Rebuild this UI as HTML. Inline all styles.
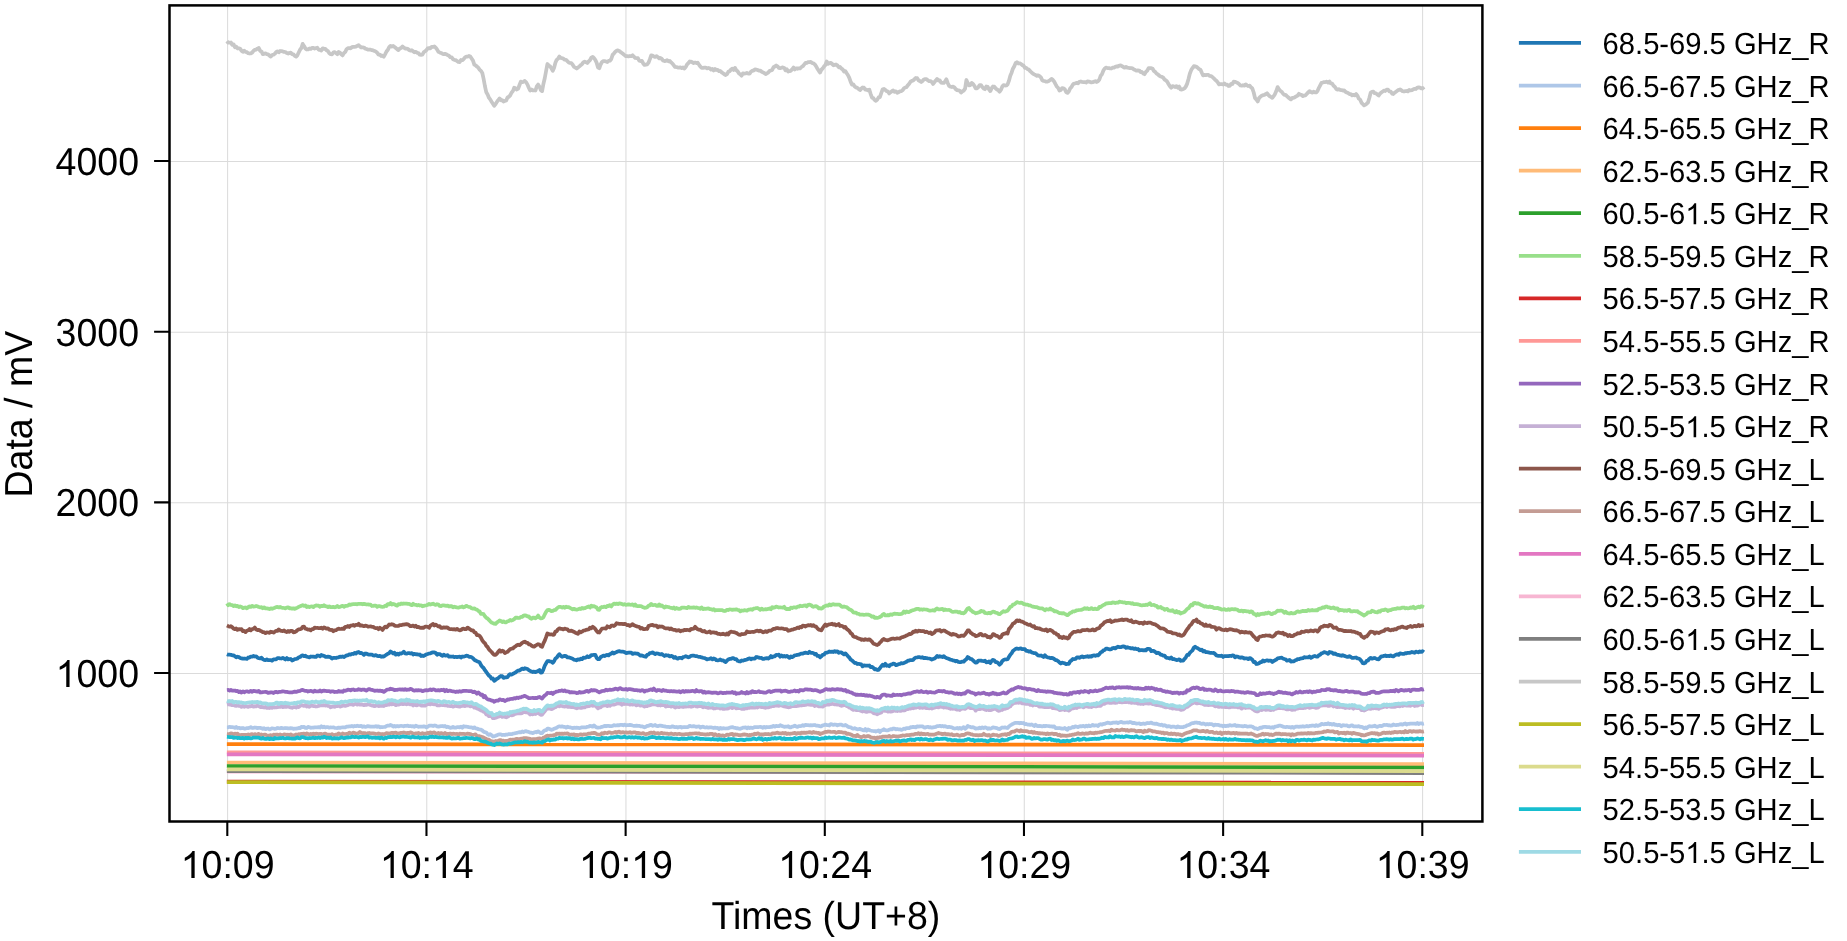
<!DOCTYPE html><html><head><meta charset="utf-8"><style>html,body{margin:0;padding:0;background:#fff;overflow:hidden;}svg{display:block;will-change:transform;}text{font-family:"Liberation Sans",sans-serif;text-rendering:geometricPrecision;}</style></head><body>
<svg width="1847" height="941" viewBox="0 0 1847 941">
<rect width="1847" height="941" fill="#fff"/>
<defs><clipPath id="ax"><rect x="169.5" y="5.4" width="1312.9" height="816.1"/></clipPath></defs>
<path d="M227.60 5.4V821.5M426.77 5.4V821.5M625.93 5.4V821.5M825.10 5.4V821.5M1024.27 5.4V821.5M1223.43 5.4V821.5M1422.60 5.4V821.5M169.5 673.50H1482.4M169.5 502.83H1482.4M169.5 332.16H1482.4M169.5 161.49H1482.4" stroke="#b0b0b0" stroke-opacity="0.45" stroke-width="1.04" fill="none"/>
<g clip-path="url(#ax)" fill="none" stroke-width="3.75" stroke-linejoin="round" stroke-linecap="butt">
<path stroke="#1f77b4" d="M226.9 654.2L228.2 654.7L229.6 654.7L230.9 654.8L232.2 655.3L233.6 655.4L234.9 656.3L236.2 657.3L237.5 656.7L238.9 657.1L240.2 658.0L241.5 658.3L242.9 658.6L244.2 658.5L245.5 658.7L246.9 658.8L248.2 657.5L249.5 657.6L250.8 656.6L252.2 656.6L253.5 656.0L254.8 656.5L256.2 656.4L257.5 657.7L258.8 658.1L260.2 658.4L261.5 657.7L262.8 659.1L264.1 659.8L265.5 660.1L266.8 659.4L268.1 660.2L269.5 660.1L270.8 660.1L272.1 660.7L273.5 659.3L274.8 659.3L276.1 659.4L277.4 658.2L278.8 658.2L280.1 658.4L281.4 658.5L282.8 657.9L284.1 658.7L285.4 659.5L286.8 658.1L288.1 659.4L289.4 659.2L290.7 659.0L292.1 660.5L293.4 660.0L294.7 659.2L296.1 659.0L297.4 658.5L298.7 657.3L300.1 657.0L301.4 655.8L302.7 655.4L304.0 656.2L305.4 655.7L306.7 656.7L308.0 657.0L309.4 657.3L310.7 656.5L312.0 656.6L313.4 656.6L314.7 656.9L316.0 656.9L317.3 655.5L318.7 655.7L320.0 656.4L321.3 655.0L322.7 655.6L324.0 655.8L325.3 656.8L326.7 656.8L328.0 656.6L329.3 656.9L330.6 657.3L332.0 658.5L333.3 657.9L334.6 657.9L336.0 658.0L337.3 657.5L338.6 657.3L340.0 656.6L341.3 656.9L342.6 656.5L343.9 657.0L345.3 656.2L346.6 655.4L347.9 655.3L349.3 654.3L350.6 654.6L351.9 653.9L353.3 654.0L354.6 652.9L355.9 653.5L357.2 652.3L358.6 652.0L359.9 653.1L361.2 652.9L362.6 653.6L363.9 654.8L365.2 653.5L366.6 653.7L367.9 654.3L369.2 654.6L370.5 654.5L371.9 654.7L373.2 655.4L374.5 655.6L375.9 655.1L377.2 655.8L378.5 656.1L379.9 655.9L381.2 656.8L382.5 656.4L383.8 656.6L385.2 655.5L386.5 654.7L387.8 653.7L389.2 653.2L390.5 651.5L391.8 652.4L393.2 653.5L394.5 652.7L395.8 654.6L397.1 653.7L398.5 654.5L399.8 653.3L401.1 653.7L402.5 652.9L403.8 651.8L405.1 653.4L406.5 653.7L407.8 653.1L409.1 653.2L410.4 653.5L411.8 653.2L413.1 654.5L414.4 653.9L415.8 654.3L417.1 654.2L418.4 654.6L419.8 654.5L421.1 656.0L422.4 655.6L423.7 656.0L425.1 655.1L426.4 654.3L427.7 654.0L429.1 653.5L430.4 653.3L431.7 652.7L433.1 652.4L434.4 652.3L435.7 653.0L437.0 654.7L438.4 654.0L439.7 654.1L441.0 655.1L442.4 655.8L443.7 654.6L445.0 655.5L446.4 655.5L447.7 655.2L449.0 656.7L450.3 656.5L451.7 656.7L453.0 656.5L454.3 657.2L455.7 656.8L457.0 657.2L458.3 656.8L459.7 656.6L461.0 657.6L462.3 656.5L463.6 656.6L465.0 656.2L466.3 655.7L467.6 655.8L469.0 656.8L470.3 656.8L471.6 657.3L473.0 658.3L474.3 659.8L475.6 660.5L476.9 661.2L478.3 661.7L479.6 662.2L480.9 665.0L482.3 666.8L483.6 668.0L484.9 670.2L486.3 672.0L487.6 673.8L488.9 675.6L490.2 676.5L491.6 678.7L492.9 678.5L494.2 680.8L495.6 679.9L496.9 678.8L498.2 678.1L499.6 676.9L500.9 676.0L502.2 676.2L503.5 677.9L504.9 677.4L506.2 677.3L507.5 677.1L508.9 675.1L510.2 674.1L511.5 674.7L512.9 673.9L514.2 673.1L515.5 672.5L516.8 671.4L518.2 670.5L519.5 670.6L520.8 669.6L522.2 668.6L523.5 669.1L524.8 668.2L526.2 668.7L527.5 669.0L528.8 670.1L530.1 670.8L531.5 671.6L532.8 672.1L534.1 671.6L535.5 672.2L536.8 671.4L538.1 670.9L539.5 670.0L540.8 672.6L542.1 672.3L543.4 669.4L544.8 665.7L546.1 663.3L547.4 661.1L548.8 661.0L550.1 661.5L551.4 661.7L552.8 662.8L554.1 661.1L555.4 658.5L556.7 657.7L558.1 655.5L559.4 654.2L560.7 655.7L562.1 656.8L563.4 656.3L564.7 655.8L566.1 656.1L567.4 657.4L568.7 657.4L570.0 657.8L571.4 658.3L572.7 658.8L574.0 659.7L575.4 660.0L576.7 660.3L578.0 659.3L579.4 659.7L580.7 658.7L582.0 659.2L583.3 657.6L584.7 657.8L586.0 657.5L587.3 656.3L588.7 657.2L590.0 656.5L591.3 655.0L592.7 655.0L594.0 654.8L595.3 654.8L596.6 657.8L598.0 659.2L599.3 659.1L600.6 657.2L602.0 656.3L603.3 655.6L604.6 656.0L606.0 655.3L607.3 654.9L608.6 655.4L609.9 654.1L611.3 653.7L612.6 652.4L613.9 653.5L615.3 652.6L616.6 652.0L617.9 651.3L619.3 651.2L620.6 651.5L621.9 651.5L623.2 651.7L624.6 652.1L625.9 653.1L627.2 652.8L628.6 652.6L629.9 652.5L631.2 652.6L632.6 653.9L633.9 653.4L635.2 653.4L636.5 653.6L637.9 653.7L639.2 654.7L640.5 655.6L641.9 655.4L643.2 656.0L644.5 656.4L645.9 656.8L647.2 654.9L648.5 654.5L649.8 653.2L651.2 653.0L652.5 652.3L653.8 653.3L655.2 654.0L656.5 653.3L657.8 653.5L659.2 654.1L660.5 654.3L661.8 654.0L663.1 655.0L664.5 656.0L665.8 655.2L667.1 655.5L668.5 655.4L669.8 656.4L671.1 655.9L672.5 656.3L673.8 657.8L675.1 657.0L676.4 658.2L677.8 658.6L679.1 657.8L680.4 657.8L681.8 658.3L683.1 657.1L684.4 656.7L685.8 656.2L687.1 656.7L688.4 657.3L689.7 656.9L691.1 655.8L692.4 655.7L693.7 655.7L695.1 656.0L696.4 656.0L697.7 656.5L699.1 656.9L700.4 656.9L701.7 657.4L703.0 657.8L704.4 658.0L705.7 658.6L707.0 659.4L708.4 659.0L709.7 658.9L711.0 658.2L712.4 659.4L713.7 658.4L715.0 658.9L716.3 660.2L717.7 660.3L719.0 660.1L720.3 659.5L721.7 660.4L723.0 660.4L724.3 661.3L725.7 662.1L727.0 660.5L728.3 659.5L729.6 658.8L731.0 658.8L732.3 658.2L733.6 658.1L735.0 659.2L736.3 659.1L737.6 660.8L739.0 661.3L740.3 661.5L741.6 660.5L742.9 660.7L744.3 660.1L745.6 659.8L746.9 659.5L748.3 658.8L749.6 658.4L750.9 659.3L752.3 658.5L753.6 658.5L754.9 658.6L756.2 657.0L757.6 657.2L758.9 657.6L760.2 658.0L761.6 657.9L762.9 658.9L764.2 658.8L765.6 658.3L766.9 658.1L768.2 658.5L769.5 657.8L770.9 656.1L772.2 657.3L773.5 656.4L774.9 656.3L776.2 654.9L777.5 655.0L778.9 654.7L780.2 656.7L781.5 655.5L782.8 656.6L784.2 655.8L785.5 656.5L786.8 655.9L788.2 656.9L789.5 657.9L790.8 656.4L792.2 657.2L793.5 656.4L794.8 655.3L796.1 655.2L797.5 654.9L798.8 654.7L800.1 654.1L801.5 653.6L802.8 653.7L804.1 653.0L805.5 652.7L806.8 653.0L808.1 653.2L809.4 651.8L810.8 652.8L812.1 652.8L813.4 653.0L814.8 654.3L816.1 653.9L817.4 655.9L818.8 655.8L820.1 657.4L821.4 656.3L822.7 654.9L824.1 654.5L825.4 652.9L826.7 652.7L828.1 652.2L829.4 651.5L830.7 651.8L832.1 651.7L833.4 652.0L834.7 651.1L836.0 651.9L837.4 651.3L838.7 652.9L840.0 652.3L841.4 652.3L842.7 653.5L844.0 654.4L845.4 653.4L846.7 654.8L848.0 656.3L849.3 657.5L850.7 659.6L852.0 660.3L853.3 661.7L854.7 663.0L856.0 662.9L857.3 664.0L858.7 663.8L860.0 664.2L861.3 664.4L862.6 666.4L864.0 665.3L865.3 665.6L866.6 665.5L868.0 665.6L869.3 665.5L870.6 667.2L872.0 666.9L873.3 667.8L874.6 669.3L875.9 669.1L877.3 670.0L878.6 669.8L879.9 668.3L881.3 666.2L882.6 664.8L883.9 665.7L885.3 663.8L886.6 665.8L887.9 665.3L889.2 666.2L890.6 664.7L891.9 664.5L893.2 663.6L894.6 663.9L895.9 665.1L897.2 664.8L898.6 664.2L899.9 664.0L901.2 663.2L902.5 663.4L903.9 663.0L905.2 662.4L906.5 661.8L907.9 660.7L909.2 660.6L910.5 660.1L911.9 660.2L913.2 659.9L914.5 658.3L915.8 657.5L917.2 657.4L918.5 657.2L919.8 657.2L921.2 657.6L922.5 657.2L923.8 658.1L925.2 657.8L926.5 658.2L927.8 658.4L929.1 658.5L930.5 658.8L931.8 659.5L933.1 659.0L934.5 658.5L935.8 657.5L937.1 656.0L938.5 656.8L939.8 656.2L941.1 656.7L942.4 657.0L943.8 656.2L945.1 657.4L946.4 658.0L947.8 658.5L949.1 659.0L950.4 659.7L951.8 659.9L953.1 660.5L954.4 660.7L955.7 661.3L957.1 660.9L958.4 661.9L959.7 662.1L961.1 662.1L962.4 661.6L963.7 661.6L965.1 660.1L966.4 659.2L967.7 657.0L969.0 657.9L970.4 658.8L971.7 659.1L973.0 660.3L974.4 661.7L975.7 662.6L977.0 662.3L978.4 660.5L979.7 660.5L981.0 660.6L982.3 661.0L983.7 661.1L985.0 660.7L986.3 662.3L987.7 662.2L989.0 661.5L990.3 663.0L991.7 660.9L993.0 659.8L994.3 660.5L995.6 662.2L997.0 662.1L998.3 663.2L999.6 664.7L1001.0 663.4L1002.3 661.0L1003.6 660.0L1005.0 659.4L1006.3 659.5L1007.6 659.2L1008.9 657.0L1010.3 654.7L1011.6 653.3L1012.9 651.0L1014.3 649.9L1015.6 648.9L1016.9 648.5L1018.3 648.8L1019.6 648.6L1020.9 648.3L1022.2 649.2L1023.6 649.0L1024.9 649.2L1026.2 650.8L1027.6 650.9L1028.9 651.7L1030.2 651.2L1031.6 652.4L1032.9 652.8L1034.2 653.2L1035.5 653.1L1036.9 654.4L1038.2 655.4L1039.5 655.6L1040.9 655.5L1042.2 656.2L1043.5 657.0L1044.9 655.3L1046.2 656.8L1047.5 657.3L1048.8 657.5L1050.2 658.1L1051.5 657.9L1052.8 658.2L1054.2 659.0L1055.5 660.1L1056.8 660.2L1058.2 661.2L1059.5 662.5L1060.8 663.5L1062.1 662.7L1063.5 663.0L1064.8 663.4L1066.1 664.2L1067.5 663.8L1068.8 663.8L1070.1 661.3L1071.5 660.4L1072.8 659.0L1074.1 659.1L1075.4 659.0L1076.8 657.4L1078.1 657.4L1079.4 657.8L1080.8 657.0L1082.1 656.3L1083.4 657.3L1084.8 656.8L1086.1 656.7L1087.4 656.2L1088.7 656.9L1090.1 656.2L1091.4 656.7L1092.7 655.5L1094.1 655.4L1095.4 655.8L1096.7 655.2L1098.1 655.4L1099.4 654.1L1100.7 652.4L1102.0 651.8L1103.4 650.4L1104.7 650.0L1106.0 648.7L1107.4 648.6L1108.7 649.2L1110.0 649.5L1111.4 649.2L1112.7 648.0L1114.0 647.9L1115.3 648.4L1116.7 647.4L1118.0 646.7L1119.3 647.1L1120.7 647.2L1122.0 646.6L1123.3 646.4L1124.7 646.6L1126.0 647.8L1127.3 647.2L1128.6 647.6L1130.0 647.9L1131.3 648.4L1132.6 648.2L1134.0 648.9L1135.3 648.5L1136.6 649.1L1138.0 649.0L1139.3 650.4L1140.6 650.1L1141.9 650.0L1143.3 650.4L1144.6 650.1L1145.9 650.3L1147.3 648.9L1148.6 648.8L1149.9 649.0L1151.3 651.1L1152.6 650.9L1153.9 650.9L1155.2 651.9L1156.6 653.2L1157.9 652.6L1159.2 653.2L1160.6 654.6L1161.9 654.9L1163.2 655.6L1164.6 655.6L1165.9 657.4L1167.2 657.9L1168.5 658.0L1169.9 658.6L1171.2 657.5L1172.5 659.2L1173.9 659.0L1175.2 659.6L1176.5 660.1L1177.9 659.8L1179.2 659.4L1180.5 660.8L1181.8 660.5L1183.2 660.6L1184.5 658.9L1185.8 657.4L1187.2 654.8L1188.5 654.9L1189.8 652.8L1191.2 651.5L1192.5 650.3L1193.8 647.7L1195.1 646.7L1196.5 647.8L1197.8 648.3L1199.1 649.2L1200.5 650.1L1201.8 649.7L1203.1 651.5L1204.5 651.0L1205.8 652.2L1207.1 652.2L1208.4 652.4L1209.8 652.8L1211.1 652.8L1212.4 653.0L1213.8 652.8L1215.1 654.0L1216.4 655.4L1217.8 655.8L1219.1 655.9L1220.4 656.0L1221.7 655.7L1223.1 657.0L1224.4 656.2L1225.7 656.2L1227.1 656.0L1228.4 656.1L1229.7 655.8L1231.1 656.0L1232.4 655.4L1233.7 655.7L1235.0 657.3L1236.4 656.5L1237.7 656.7L1239.0 657.4L1240.4 657.8L1241.7 657.3L1243.0 657.8L1244.4 658.5L1245.7 658.3L1247.0 658.3L1248.3 659.1L1249.7 658.1L1251.0 658.6L1252.3 659.7L1253.7 662.2L1255.0 661.9L1256.3 664.0L1257.7 663.9L1259.0 663.3L1260.3 662.2L1261.6 662.1L1263.0 660.5L1264.3 661.4L1265.6 660.7L1267.0 660.3L1268.3 660.8L1269.6 660.6L1271.0 660.6L1272.3 662.0L1273.6 661.0L1274.9 660.3L1276.3 659.6L1277.6 658.4L1278.9 658.2L1280.3 657.8L1281.6 657.7L1282.9 658.5L1284.3 659.0L1285.6 659.3L1286.9 660.6L1288.2 660.4L1289.6 660.0L1290.9 661.6L1292.2 661.4L1293.6 661.4L1294.9 660.6L1296.2 660.1L1297.6 659.1L1298.9 659.2L1300.2 658.6L1301.5 658.4L1302.9 658.2L1304.2 657.1L1305.5 657.5L1306.9 657.3L1308.2 657.4L1309.5 656.5L1310.9 657.9L1312.2 657.1L1313.5 656.3L1314.8 656.0L1316.2 656.6L1317.5 656.6L1318.8 655.3L1320.2 654.7L1321.5 653.4L1322.8 653.0L1324.2 652.1L1325.5 652.5L1326.8 653.0L1328.1 653.8L1329.5 652.0L1330.8 652.3L1332.1 652.6L1333.5 653.9L1334.8 653.4L1336.1 654.2L1337.5 654.9L1338.8 654.9L1340.1 655.4L1341.4 655.8L1342.8 655.2L1344.1 655.7L1345.4 656.3L1346.8 656.8L1348.1 656.8L1349.4 656.2L1350.8 657.0L1352.1 657.8L1353.4 657.8L1354.7 657.7L1356.1 657.5L1357.4 658.4L1358.7 658.5L1360.1 659.4L1361.4 660.9L1362.7 663.2L1364.1 663.4L1365.4 662.8L1366.7 660.9L1368.0 660.5L1369.4 658.7L1370.7 657.8L1372.0 658.7L1373.4 658.2L1374.7 658.0L1376.0 658.6L1377.4 659.2L1378.7 659.4L1380.0 657.8L1381.3 656.4L1382.7 656.4L1384.0 655.8L1385.3 655.5L1386.7 656.2L1388.0 655.8L1389.3 656.2L1390.7 655.3L1392.0 656.1L1393.3 656.4L1394.6 655.4L1396.0 654.8L1397.3 654.3L1398.6 654.9L1400.0 653.4L1401.3 653.7L1402.6 653.8L1404.0 653.8L1405.3 653.1L1406.6 653.3L1407.9 652.8L1409.3 652.9L1410.6 652.6L1411.9 652.0L1413.3 652.4L1414.6 652.8L1415.9 651.7L1417.3 652.0L1418.6 652.3L1419.9 651.4L1421.2 651.9L1422.6 651.2L1423.9 652.2"/>
<path stroke="#aec7e8" d="M226.9 727.4L228.2 727.4L229.6 726.8L230.9 727.2L232.2 727.2L233.6 727.3L234.9 727.9L236.2 727.0L237.5 728.0L238.9 727.8L240.2 728.4L241.5 728.1L242.9 728.0L244.2 728.5L245.5 728.5L246.9 728.2L248.2 728.2L249.5 727.8L250.8 727.1L252.2 728.0L253.5 727.8L254.8 727.5L256.2 727.7L257.5 728.2L258.8 727.8L260.2 727.9L261.5 728.3L262.8 728.9L264.1 728.2L265.5 729.2L266.8 728.6L268.1 728.5L269.5 729.4L270.8 728.9L272.1 728.3L273.5 728.5L274.8 728.8L276.1 728.7L277.4 728.0L278.8 728.2L280.1 728.3L281.4 727.9L282.8 728.3L284.1 728.2L285.4 728.0L286.8 728.1L288.1 728.3L289.4 728.4L290.7 728.2L292.1 728.3L293.4 728.9L294.7 728.7L296.1 728.6L297.4 728.4L298.7 727.9L300.1 728.2L301.4 726.8L302.7 727.1L304.0 726.9L305.4 727.8L306.7 728.0L308.0 726.9L309.4 727.3L310.7 727.8L312.0 727.7L313.4 727.6L314.7 727.3L316.0 727.4L317.3 727.4L318.7 727.1L320.0 727.5L321.3 726.3L322.7 727.3L324.0 726.7L325.3 727.5L326.7 727.2L328.0 727.1L329.3 727.7L330.6 727.3L332.0 727.5L333.3 727.3L334.6 727.9L336.0 728.0L337.3 728.1L338.6 727.6L340.0 727.9L341.3 727.5L342.6 727.3L343.9 727.4L345.3 727.4L346.6 726.7L347.9 726.6L349.3 726.4L350.6 726.4L351.9 726.0L353.3 726.6L354.6 726.0L355.9 726.2L357.2 725.7L358.6 726.1L359.9 726.1L361.2 725.9L362.6 726.8L363.9 726.3L365.2 726.9L366.6 726.6L367.9 726.1L369.2 726.3L370.5 726.6L371.9 726.6L373.2 726.7L374.5 726.7L375.9 726.2L377.2 726.9L378.5 726.3L379.9 727.3L381.2 727.0L382.5 727.1L383.8 727.0L385.2 726.9L386.5 726.0L387.8 725.6L389.2 725.6L390.5 725.0L391.8 725.5L393.2 726.6L394.5 725.8L395.8 726.5L397.1 726.0L398.5 726.4L399.8 726.0L401.1 725.9L402.5 726.0L403.8 726.3L405.1 725.8L406.5 725.9L407.8 725.6L409.1 726.2L410.4 726.0L411.8 726.4L413.1 726.2L414.4 726.9L415.8 725.7L417.1 726.3L418.4 726.8L419.8 726.5L421.1 726.5L422.4 726.7L423.7 726.3L425.1 726.6L426.4 727.3L427.7 726.7L429.1 725.7L430.4 725.6L431.7 725.6L433.1 726.0L434.4 725.5L435.7 725.7L437.0 726.4L438.4 726.6L439.7 726.3L441.0 726.1L442.4 726.0L443.7 726.4L445.0 726.0L446.4 727.1L447.7 726.7L449.0 727.2L450.3 727.8L451.7 727.6L453.0 726.8L454.3 727.6L455.7 727.7L457.0 727.1L458.3 727.1L459.7 727.3L461.0 726.7L462.3 727.7L463.6 726.2L465.0 726.6L466.3 726.7L467.6 726.8L469.0 727.1L470.3 727.3L471.6 727.3L473.0 728.1L474.3 727.3L475.6 728.4L476.9 728.5L478.3 729.2L479.6 729.5L480.9 729.7L482.3 730.5L483.6 731.7L484.9 732.2L486.3 732.5L487.6 734.1L488.9 734.9L490.2 734.1L491.6 735.2L492.9 736.5L494.2 736.3L495.6 735.8L496.9 735.2L498.2 734.6L499.6 734.4L500.9 734.4L502.2 735.0L503.5 734.8L504.9 735.0L506.2 734.5L507.5 734.6L508.9 734.0L510.2 734.0L511.5 734.2L512.9 733.7L514.2 733.5L515.5 733.2L516.8 732.8L518.2 732.5L519.5 732.2L520.8 732.4L522.2 731.5L523.5 732.1L524.8 731.4L526.2 731.2L527.5 731.7L528.8 732.0L530.1 732.6L531.5 732.6L532.8 733.2L534.1 732.5L535.5 732.0L536.8 732.3L538.1 731.3L539.5 732.3L540.8 733.2L542.1 733.1L543.4 731.3L544.8 730.4L546.1 730.2L547.4 728.6L548.8 728.7L550.1 729.2L551.4 729.8L552.8 729.5L554.1 728.7L555.4 728.2L556.7 727.7L558.1 726.7L559.4 726.3L560.7 726.7L562.1 726.4L563.4 726.8L564.7 726.9L566.1 727.7L567.4 726.7L568.7 727.1L570.0 727.3L571.4 727.7L572.7 728.1L574.0 727.7L575.4 727.8L576.7 727.7L578.0 727.8L579.4 728.2L580.7 727.8L582.0 727.3L583.3 727.4L584.7 727.4L586.0 727.4L587.3 726.8L588.7 726.7L590.0 725.9L591.3 726.0L592.7 726.7L594.0 725.4L595.3 726.6L596.6 727.4L598.0 727.7L599.3 727.5L600.6 727.3L602.0 726.8L603.3 726.5L604.6 725.8L606.0 726.3L607.3 725.9L608.6 725.9L609.9 726.1L611.3 726.1L612.6 725.9L613.9 725.2L615.3 725.5L616.6 725.3L617.9 725.1L619.3 725.3L620.6 724.8L621.9 724.9L623.2 725.3L624.6 724.6L625.9 725.3L627.2 725.1L628.6 725.2L629.9 724.8L631.2 725.1L632.6 725.5L633.9 725.8L635.2 725.9L636.5 725.7L637.9 725.9L639.2 725.8L640.5 726.4L641.9 726.3L643.2 726.8L644.5 727.4L645.9 726.8L647.2 725.9L648.5 725.8L649.8 725.2L651.2 724.9L652.5 725.8L653.8 725.5L655.2 725.0L656.5 725.8L657.8 726.1L659.2 725.7L660.5 725.6L661.8 725.9L663.1 726.2L664.5 726.4L665.8 726.7L667.1 726.8L668.5 726.9L669.8 727.1L671.1 727.0L672.5 726.3L673.8 726.9L675.1 727.2L676.4 727.0L677.8 727.5L679.1 727.0L680.4 726.8L681.8 727.5L683.1 727.2L684.4 727.0L685.8 727.1L687.1 727.1L688.4 726.8L689.7 725.8L691.1 726.4L692.4 726.4L693.7 726.1L695.1 726.5L696.4 726.9L697.7 726.5L699.1 726.4L700.4 727.6L701.7 726.8L703.0 726.7L704.4 727.3L705.7 727.5L707.0 727.2L708.4 727.7L709.7 727.4L711.0 727.3L712.4 727.7L713.7 728.0L715.0 727.6L716.3 728.0L717.7 727.9L719.0 729.0L720.3 727.8L721.7 728.6L723.0 728.2L724.3 728.3L725.7 728.5L727.0 728.4L728.3 728.3L729.6 727.8L731.0 727.3L732.3 727.1L733.6 727.6L735.0 727.8L736.3 728.3L737.6 728.2L739.0 728.6L740.3 728.8L741.6 728.3L742.9 727.6L744.3 727.6L745.6 727.4L746.9 728.3L748.3 727.4L749.6 728.0L750.9 727.7L752.3 728.0L753.6 727.6L754.9 727.1L756.2 727.0L757.6 727.0L758.9 727.0L760.2 726.9L761.6 727.1L762.9 727.8L764.2 726.8L765.6 727.6L766.9 727.0L768.2 727.2L769.5 727.2L770.9 726.7L772.2 726.8L773.5 725.8L774.9 726.6L776.2 725.8L777.5 726.2L778.9 726.1L780.2 725.2L781.5 725.9L782.8 726.3L784.2 726.9L785.5 726.6L786.8 726.7L788.2 726.2L789.5 727.3L790.8 727.3L792.2 726.6L793.5 726.3L794.8 725.7L796.1 726.4L797.5 726.9L798.8 726.1L800.1 726.1L801.5 725.8L802.8 725.1L804.1 725.8L805.5 724.8L806.8 725.1L808.1 725.2L809.4 725.3L810.8 725.2L812.1 725.3L813.4 725.1L814.8 725.0L816.1 725.6L817.4 725.7L818.8 725.9L820.1 726.3L821.4 726.3L822.7 725.3L824.1 725.1L825.4 724.6L826.7 725.0L828.1 725.0L829.4 725.5L830.7 724.2L832.1 724.4L833.4 724.9L834.7 724.5L836.0 724.6L837.4 725.4L838.7 724.8L840.0 724.6L841.4 724.7L842.7 725.4L844.0 725.5L845.4 725.0L846.7 725.6L848.0 726.7L849.3 727.2L850.7 727.3L852.0 728.2L853.3 728.7L854.7 728.1L856.0 728.8L857.3 729.3L858.7 729.1L860.0 728.8L861.3 729.6L862.6 730.1L864.0 730.3L865.3 729.0L866.6 730.7L868.0 729.4L869.3 730.1L870.6 730.5L872.0 730.8L873.3 731.0L874.6 731.0L875.9 731.6L877.3 731.1L878.6 730.4L879.9 732.0L881.3 730.5L882.6 730.2L883.9 729.2L885.3 730.2L886.6 730.3L887.9 730.4L889.2 729.8L890.6 729.2L891.9 729.4L893.2 728.5L894.6 728.7L895.9 729.3L897.2 729.0L898.6 729.3L899.9 729.3L901.2 729.9L902.5 729.4L903.9 728.7L905.2 729.0L906.5 728.0L907.9 728.0L909.2 728.2L910.5 727.2L911.9 727.3L913.2 726.8L914.5 727.1L915.8 727.4L917.2 726.4L918.5 726.7L919.8 726.4L921.2 726.3L922.5 726.3L923.8 727.3L925.2 727.6L926.5 727.0L927.8 726.8L929.1 727.4L930.5 727.2L931.8 727.7L933.1 727.4L934.5 727.1L935.8 726.9L937.1 726.1L938.5 726.2L939.8 725.8L941.1 726.3L942.4 726.0L943.8 726.5L945.1 726.2L946.4 726.8L947.8 727.2L949.1 726.8L950.4 727.2L951.8 727.4L953.1 728.1L954.4 728.5L955.7 728.3L957.1 728.0L958.4 728.7L959.7 727.8L961.1 728.9L962.4 728.0L963.7 727.1L965.1 728.8L966.4 727.7L967.7 726.0L969.0 726.7L970.4 726.9L971.7 727.4L973.0 727.2L974.4 727.8L975.7 728.6L977.0 728.4L978.4 728.4L979.7 727.6L981.0 728.3L982.3 727.4L983.7 728.0L985.0 727.4L986.3 727.8L987.7 728.8L989.0 728.2L990.3 728.7L991.7 728.1L993.0 727.3L994.3 727.7L995.6 727.9L997.0 728.2L998.3 728.9L999.6 729.1L1001.0 728.2L1002.3 727.5L1003.6 727.6L1005.0 727.4L1006.3 727.8L1007.6 728.0L1008.9 726.5L1010.3 725.4L1011.6 724.7L1012.9 723.9L1014.3 723.3L1015.6 722.8L1016.9 722.8L1018.3 722.9L1019.6 723.3L1020.9 722.9L1022.2 723.2L1023.6 723.0L1024.9 724.2L1026.2 724.0L1027.6 724.6L1028.9 724.5L1030.2 724.9L1031.6 724.5L1032.9 725.1L1034.2 726.0L1035.5 724.8L1036.9 725.8L1038.2 726.1L1039.5 725.8L1040.9 726.1L1042.2 726.4L1043.5 725.9L1044.9 726.3L1046.2 725.9L1047.5 726.0L1048.8 726.1L1050.2 726.3L1051.5 726.4L1052.8 726.8L1054.2 726.4L1055.5 728.0L1056.8 728.0L1058.2 728.1L1059.5 728.0L1060.8 728.3L1062.1 728.6L1063.5 728.6L1064.8 728.0L1066.1 729.0L1067.5 729.8L1068.8 727.9L1070.1 728.4L1071.5 727.7L1072.8 727.0L1074.1 727.4L1075.4 726.3L1076.8 726.7L1078.1 727.1L1079.4 726.4L1080.8 726.2L1082.1 726.3L1083.4 725.9L1084.8 726.6L1086.1 725.7L1087.4 726.3L1088.7 725.5L1090.1 726.2L1091.4 725.8L1092.7 724.9L1094.1 725.7L1095.4 725.3L1096.7 725.4L1098.1 726.0L1099.4 724.6L1100.7 724.2L1102.0 724.7L1103.4 723.8L1104.7 723.9L1106.0 723.2L1107.4 722.7L1108.7 722.9L1110.0 723.3L1111.4 723.2L1112.7 722.7L1114.0 722.7L1115.3 722.6L1116.7 722.3L1118.0 723.1L1119.3 722.4L1120.7 721.9L1122.0 722.2L1123.3 722.7L1124.7 722.7L1126.0 722.5L1127.3 722.3L1128.6 722.6L1130.0 722.0L1131.3 722.3L1132.6 723.1L1134.0 722.8L1135.3 723.2L1136.6 723.6L1138.0 723.5L1139.3 723.4L1140.6 724.2L1141.9 723.8L1143.3 723.5L1144.6 723.8L1145.9 723.6L1147.3 723.0L1148.6 723.2L1149.9 723.1L1151.3 722.6L1152.6 723.5L1153.9 723.7L1155.2 723.9L1156.6 723.6L1157.9 724.3L1159.2 724.7L1160.6 725.0L1161.9 724.7L1163.2 725.6L1164.6 725.2L1165.9 725.8L1167.2 726.6L1168.5 726.1L1169.9 726.3L1171.2 727.0L1172.5 726.6L1173.9 726.7L1175.2 727.0L1176.5 727.4L1177.9 726.4L1179.2 727.0L1180.5 727.0L1181.8 727.1L1183.2 727.1L1184.5 726.5L1185.8 726.3L1187.2 725.3L1188.5 725.0L1189.8 724.5L1191.2 723.5L1192.5 723.2L1193.8 723.1L1195.1 722.6L1196.5 722.5L1197.8 722.9L1199.1 722.8L1200.5 723.5L1201.8 723.9L1203.1 723.5L1204.5 723.9L1205.8 724.5L1207.1 724.0L1208.4 724.4L1209.8 724.0L1211.1 724.2L1212.4 724.4L1213.8 725.5L1215.1 724.7L1216.4 724.8L1217.8 724.9L1219.1 725.2L1220.4 725.7L1221.7 725.6L1223.1 726.4L1224.4 725.7L1225.7 726.1L1227.1 725.7L1228.4 725.8L1229.7 725.1L1231.1 725.5L1232.4 725.5L1233.7 725.4L1235.0 724.9L1236.4 726.0L1237.7 725.7L1239.0 725.8L1240.4 726.0L1241.7 726.1L1243.0 726.4L1244.4 725.9L1245.7 726.0L1247.0 726.5L1248.3 726.5L1249.7 726.3L1251.0 726.3L1252.3 726.7L1253.7 727.6L1255.0 728.5L1256.3 728.3L1257.7 729.1L1259.0 728.5L1260.3 727.6L1261.6 727.8L1263.0 727.0L1264.3 726.8L1265.6 726.9L1267.0 727.1L1268.3 727.1L1269.6 727.2L1271.0 727.7L1272.3 727.1L1273.6 727.8L1274.9 726.7L1276.3 726.5L1277.6 726.2L1278.9 725.6L1280.3 725.7L1281.6 726.0L1282.9 726.6L1284.3 727.0L1285.6 727.2L1286.9 726.8L1288.2 727.0L1289.6 727.0L1290.9 727.6L1292.2 726.8L1293.6 727.9L1294.9 727.0L1296.2 726.6L1297.6 726.7L1298.9 726.8L1300.2 726.5L1301.5 726.6L1302.9 726.2L1304.2 726.6L1305.5 726.5L1306.9 725.9L1308.2 726.4L1309.5 725.9L1310.9 725.9L1312.2 725.5L1313.5 725.7L1314.8 726.0L1316.2 725.2L1317.5 725.9L1318.8 725.4L1320.2 725.0L1321.5 723.8L1322.8 724.1L1324.2 724.3L1325.5 723.8L1326.8 724.1L1328.1 723.2L1329.5 724.3L1330.8 723.8L1332.1 724.6L1333.5 723.8L1334.8 724.9L1336.1 724.7L1337.5 725.3L1338.8 724.8L1340.1 725.1L1341.4 726.2L1342.8 725.2L1344.1 725.3L1345.4 725.5L1346.8 725.3L1348.1 726.1L1349.4 726.4L1350.8 725.6L1352.1 725.3L1353.4 726.4L1354.7 726.4L1356.1 726.4L1357.4 726.5L1358.7 726.1L1360.1 726.8L1361.4 726.8L1362.7 727.3L1364.1 728.4L1365.4 727.4L1366.7 728.1L1368.0 726.9L1369.4 726.2L1370.7 726.3L1372.0 726.5L1373.4 726.2L1374.7 725.7L1376.0 726.4L1377.4 726.9L1378.7 726.2L1380.0 725.8L1381.3 726.2L1382.7 725.6L1384.0 724.8L1385.3 725.0L1386.7 724.9L1388.0 725.3L1389.3 725.2L1390.7 725.6L1392.0 725.4L1393.3 724.5L1394.6 725.0L1396.0 725.1L1397.3 724.8L1398.6 724.9L1400.0 724.3L1401.3 724.1L1402.6 724.7L1404.0 723.9L1405.3 723.5L1406.6 724.5L1407.9 723.9L1409.3 723.9L1410.6 723.5L1411.9 723.5L1413.3 723.5L1414.6 723.7L1415.9 723.9L1417.3 723.0L1418.6 724.0L1419.9 723.3L1421.2 723.3L1422.6 723.8L1423.9 723.5"/>
<path stroke="#ff7f0e" d="M226.9 744.0L1424.0 745.1"/>
<path stroke="#ffbb78" d="M226.9 762.5L1424.0 764.0"/>
<path stroke="#2ca02c" d="M226.9 766.0L1424.0 767.5"/>
<path stroke="#98df8a" d="M226.9 603.4L228.2 605.2L229.6 604.2L230.9 605.0L232.2 605.2L233.6 606.0L234.9 605.4L236.2 606.3L237.5 605.8L238.9 607.0L240.2 606.4L241.5 606.9L242.9 608.2L244.2 607.7L245.5 607.5L246.9 608.3L248.2 607.2L249.5 606.4L250.8 606.9L252.2 605.9L253.5 606.7L254.8 606.5L256.2 606.0L257.5 606.3L258.8 607.0L260.2 607.3L261.5 607.2L262.8 608.3L264.1 607.4L265.5 608.3L266.8 608.4L268.1 608.6L269.5 609.0L270.8 608.3L272.1 608.8L273.5 608.2L274.8 607.7L276.1 607.1L277.4 606.9L278.8 607.4L280.1 606.9L281.4 607.4L282.8 607.9L284.1 608.0L285.4 608.3L286.8 607.6L288.1 607.3L289.4 608.4L290.7 608.2L292.1 608.7L293.4 608.3L294.7 608.9L296.1 608.2L297.4 607.6L298.7 606.9L300.1 606.3L301.4 605.7L302.7 605.1L304.0 605.8L305.4 605.5L306.7 607.0L308.0 606.5L309.4 607.1L310.7 606.5L312.0 606.3L313.4 607.1L314.7 605.9L316.0 605.4L317.3 605.6L318.7 605.7L320.0 606.8L321.3 605.8L322.7 606.1L324.0 605.2L325.3 606.1L326.7 606.4L328.0 607.2L329.3 606.3L330.6 607.1L332.0 607.2L333.3 606.9L334.6 607.3L336.0 607.0L337.3 606.0L338.6 607.1L340.0 606.9L341.3 606.3L342.6 605.8L343.9 606.8L345.3 605.9L346.6 605.9L347.9 605.7L349.3 604.5L350.6 604.9L351.9 604.3L353.3 604.2L354.6 604.1L355.9 604.0L357.2 604.3L358.6 603.8L359.9 603.8L361.2 603.9L362.6 604.3L363.9 603.9L365.2 604.2L366.6 604.5L367.9 604.4L369.2 604.7L370.5 604.6L371.9 606.0L373.2 605.9L374.5 605.7L375.9 605.7L377.2 606.9L378.5 606.2L379.9 606.2L381.2 606.6L382.5 606.8L383.8 606.7L385.2 605.6L386.5 606.0L387.8 604.1L389.2 604.3L390.5 603.1L391.8 604.6L393.2 604.0L394.5 604.4L395.8 605.2L397.1 605.6L398.5 604.2L399.8 604.3L401.1 603.5L402.5 603.9L403.8 603.5L405.1 603.6L406.5 603.6L407.8 603.9L409.1 603.8L410.4 604.6L411.8 605.2L413.1 603.8L414.4 604.7L415.8 604.8L417.1 605.4L418.4 604.9L419.8 605.5L421.1 605.3L422.4 606.3L423.7 605.9L425.1 605.5L426.4 605.4L427.7 604.8L429.1 603.9L430.4 604.5L431.7 604.1L433.1 603.7L434.4 604.5L435.7 604.9L437.0 604.2L438.4 604.6L439.7 606.0L441.0 606.1L442.4 605.3L443.7 605.3L445.0 605.7L446.4 605.9L447.7 605.6L449.0 606.5L450.3 606.1L451.7 606.2L453.0 607.3L454.3 606.7L455.7 607.1L457.0 607.5L458.3 607.7L459.7 607.1L461.0 607.0L462.3 606.5L463.6 607.4L465.0 606.8L466.3 605.8L467.6 606.4L469.0 607.0L470.3 607.2L471.6 608.2L473.0 608.6L474.3 608.4L475.6 609.3L476.9 609.5L478.3 610.8L479.6 611.5L480.9 613.8L482.3 613.9L483.6 614.2L484.9 616.2L486.3 617.8L487.6 618.5L488.9 619.9L490.2 621.3L491.6 622.5L492.9 623.1L494.2 623.7L495.6 623.9L496.9 622.5L498.2 621.6L499.6 620.5L500.9 621.0L502.2 622.0L503.5 621.3L504.9 622.4L506.2 622.3L507.5 621.3L508.9 621.0L510.2 619.9L511.5 620.5L512.9 620.0L514.2 619.1L515.5 617.7L516.8 617.6L518.2 618.0L519.5 617.9L520.8 616.9L522.2 616.9L523.5 615.6L524.8 615.4L526.2 615.7L527.5 616.5L528.8 616.3L530.1 618.1L531.5 618.8L532.8 617.7L534.1 617.6L535.5 618.4L536.8 617.3L538.1 615.6L539.5 617.7L540.8 618.4L542.1 618.2L543.4 617.3L544.8 614.3L546.1 611.8L547.4 610.1L548.8 609.9L550.1 610.3L551.4 611.1L552.8 610.9L554.1 610.2L555.4 610.0L556.7 608.6L558.1 607.4L559.4 606.8L560.7 606.9L562.1 607.5L563.4 606.9L564.7 607.8L566.1 606.7L567.4 607.2L568.7 607.1L570.0 607.9L571.4 608.6L572.7 609.4L574.0 608.8L575.4 609.5L576.7 609.6L578.0 609.2L579.4 608.7L580.7 609.0L582.0 607.9L583.3 608.5L584.7 608.2L586.0 607.6L587.3 607.0L588.7 606.5L590.0 607.5L591.3 605.6L592.7 606.5L594.0 606.1L595.3 606.8L596.6 607.5L598.0 609.6L599.3 609.8L600.6 607.7L602.0 607.0L603.3 607.1L604.6 606.6L606.0 607.2L607.3 605.8L608.6 606.1L609.9 605.1L611.3 606.4L612.6 604.7L613.9 603.6L615.3 604.1L616.6 603.6L617.9 604.1L619.3 603.3L620.6 603.6L621.9 604.0L623.2 604.7L624.6 604.1L625.9 604.8L627.2 604.7L628.6 604.4L629.9 604.7L631.2 604.8L632.6 604.4L633.9 605.5L635.2 604.4L636.5 605.9L637.9 606.2L639.2 606.0L640.5 606.1L641.9 606.6L643.2 607.3L644.5 607.8L645.9 607.7L647.2 607.3L648.5 605.8L649.8 605.4L651.2 603.9L652.5 605.0L653.8 605.0L655.2 604.9L656.5 605.8L657.8 605.8L659.2 604.4L660.5 605.9L661.8 605.4L663.1 606.7L664.5 607.5L665.8 606.4L667.1 606.9L668.5 607.0L669.8 607.5L671.1 607.8L672.5 608.3L673.8 607.5L675.1 608.9L676.4 608.0L677.8 608.6L679.1 608.9L680.4 608.6L681.8 607.7L683.1 607.7L684.4 607.7L685.8 607.8L687.1 608.2L688.4 607.0L689.7 607.7L691.1 607.7L692.4 607.6L693.7 607.4L695.1 607.8L696.4 607.5L697.7 607.9L699.1 608.1L700.4 608.8L701.7 607.4L703.0 609.1L704.4 608.7L705.7 608.8L707.0 608.6L708.4 608.4L709.7 609.2L711.0 609.2L712.4 609.8L713.7 609.1L715.0 610.5L716.3 610.2L717.7 610.1L719.0 610.0L720.3 610.1L721.7 610.1L723.0 610.6L724.3 611.0L725.7 610.8L727.0 609.9L728.3 610.0L729.6 609.4L731.0 609.5L732.3 609.9L733.6 609.6L735.0 609.6L736.3 609.4L737.6 609.8L739.0 610.1L740.3 611.4L741.6 610.5L742.9 610.7L744.3 610.2L745.6 610.3L746.9 610.7L748.3 609.6L749.6 609.6L750.9 609.2L752.3 609.8L753.6 608.7L754.9 608.5L756.2 608.2L757.6 608.0L758.9 608.8L760.2 609.9L761.6 608.6L762.9 609.6L764.2 609.5L765.6 609.2L766.9 609.3L768.2 608.9L769.5 608.4L770.9 609.2L772.2 607.1L773.5 607.8L774.9 607.4L776.2 606.6L777.5 607.0L778.9 607.5L780.2 607.3L781.5 607.5L782.8 607.7L784.2 606.8L785.5 608.6L786.8 609.2L788.2 608.8L789.5 609.1L790.8 607.7L792.2 608.0L793.5 607.4L794.8 607.3L796.1 607.7L797.5 606.6L798.8 606.7L800.1 605.6L801.5 606.2L802.8 606.1L804.1 605.6L805.5 605.4L806.8 606.4L808.1 604.8L809.4 604.7L810.8 605.0L812.1 606.2L813.4 606.8L814.8 606.3L816.1 606.1L817.4 606.9L818.8 608.3L820.1 608.2L821.4 608.7L822.7 607.9L824.1 606.4L825.4 605.9L826.7 605.5L828.1 605.7L829.4 604.4L830.7 605.3L832.1 604.5L833.4 604.2L834.7 604.6L836.0 604.7L837.4 604.6L838.7 604.6L840.0 605.1L841.4 606.4L842.7 606.9L844.0 606.5L845.4 607.0L846.7 607.2L848.0 608.3L849.3 609.4L850.7 609.8L852.0 610.8L853.3 612.3L854.7 612.6L856.0 612.6L857.3 613.7L858.7 613.8L860.0 614.7L861.3 614.7L862.6 614.6L864.0 614.8L865.3 614.7L866.6 614.5L868.0 614.6L869.3 615.1L870.6 615.6L872.0 616.8L873.3 616.3L874.6 617.8L875.9 617.7L877.3 617.9L878.6 617.5L879.9 617.0L881.3 616.2L882.6 614.6L883.9 613.9L885.3 615.3L886.6 615.4L887.9 614.9L889.2 615.4L890.6 614.3L891.9 614.8L893.2 614.0L894.6 613.7L895.9 613.9L897.2 613.8L898.6 614.2L899.9 614.2L901.2 614.0L902.5 613.3L903.9 611.5L905.2 612.7L906.5 611.4L907.9 612.0L909.2 612.0L910.5 611.2L911.9 610.5L913.2 610.2L914.5 609.8L915.8 609.2L917.2 608.9L918.5 608.8L919.8 609.8L921.2 609.3L922.5 609.8L923.8 609.3L925.2 609.5L926.5 609.6L927.8 610.1L929.1 610.6L930.5 610.6L931.8 610.5L933.1 610.2L934.5 610.7L935.8 609.2L937.1 608.5L938.5 609.4L939.8 609.3L941.1 609.2L942.4 608.8L943.8 610.2L945.1 609.4L946.4 609.9L947.8 610.0L949.1 609.9L950.4 610.5L951.8 611.6L953.1 611.8L954.4 611.7L955.7 611.5L957.1 611.6L958.4 612.3L959.7 612.0L961.1 613.2L962.4 613.0L963.7 613.4L965.1 612.3L966.4 610.2L967.7 608.5L969.0 608.0L970.4 609.9L971.7 610.8L973.0 612.0L974.4 612.5L975.7 613.3L977.0 612.9L978.4 612.4L979.7 612.1L981.0 610.8L982.3 611.4L983.7 611.3L985.0 613.0L986.3 613.2L987.7 613.3L989.0 612.8L990.3 613.4L991.7 612.4L993.0 611.7L994.3 611.8L995.6 612.7L997.0 612.8L998.3 613.9L999.6 614.2L1001.0 613.1L1002.3 612.0L1003.6 611.2L1005.0 611.7L1006.3 611.1L1007.6 610.7L1008.9 608.9L1010.3 606.8L1011.6 606.5L1012.9 604.6L1014.3 604.4L1015.6 603.3L1016.9 602.1L1018.3 602.5L1019.6 602.8L1020.9 602.7L1022.2 602.9L1023.6 604.1L1024.9 604.1L1026.2 604.7L1027.6 604.7L1028.9 605.4L1030.2 605.4L1031.6 606.1L1032.9 606.7L1034.2 606.9L1035.5 607.1L1036.9 607.1L1038.2 607.9L1039.5 608.3L1040.9 608.3L1042.2 608.4L1043.5 609.3L1044.9 610.3L1046.2 609.1L1047.5 609.5L1048.8 609.6L1050.2 608.4L1051.5 609.7L1052.8 609.8L1054.2 611.3L1055.5 611.2L1056.8 611.5L1058.2 612.4L1059.5 613.1L1060.8 613.1L1062.1 613.5L1063.5 613.1L1064.8 613.9L1066.1 614.5L1067.5 615.2L1068.8 614.2L1070.1 613.0L1071.5 612.5L1072.8 611.4L1074.1 611.5L1075.4 611.0L1076.8 610.3L1078.1 610.2L1079.4 610.0L1080.8 609.9L1082.1 609.6L1083.4 609.0L1084.8 608.2L1086.1 608.8L1087.4 608.2L1088.7 609.1L1090.1 609.0L1091.4 608.1L1092.7 609.1L1094.1 609.1L1095.4 608.6L1096.7 609.2L1098.1 609.0L1099.4 606.8L1100.7 607.0L1102.0 605.9L1103.4 605.1L1104.7 604.6L1106.0 603.4L1107.4 603.4L1108.7 603.1L1110.0 603.0L1111.4 603.2L1112.7 602.4L1114.0 602.5L1115.3 603.1L1116.7 602.6L1118.0 602.7L1119.3 601.6L1120.7 602.0L1122.0 602.2L1123.3 602.5L1124.7 602.4L1126.0 603.1L1127.3 602.8L1128.6 602.9L1130.0 603.0L1131.3 603.6L1132.6 603.2L1134.0 604.2L1135.3 604.1L1136.6 604.1L1138.0 604.3L1139.3 604.7L1140.6 605.1L1141.9 605.3L1143.3 605.2L1144.6 605.2L1145.9 604.7L1147.3 605.0L1148.6 604.2L1149.9 603.2L1151.3 605.1L1152.6 605.0L1153.9 604.9L1155.2 605.7L1156.6 605.9L1157.9 607.7L1159.2 607.4L1160.6 606.9L1161.9 608.3L1163.2 608.3L1164.6 609.8L1165.9 609.0L1167.2 608.9L1168.5 610.4L1169.9 610.6L1171.2 610.8L1172.5 610.2L1173.9 611.6L1175.2 612.4L1176.5 611.0L1177.9 612.6L1179.2 612.0L1180.5 613.5L1181.8 612.9L1183.2 612.5L1184.5 611.9L1185.8 610.5L1187.2 608.9L1188.5 608.3L1189.8 606.5L1191.2 604.7L1192.5 605.3L1193.8 603.0L1195.1 602.9L1196.5 603.7L1197.8 603.3L1199.1 603.9L1200.5 604.7L1201.8 605.2L1203.1 605.9L1204.5 606.7L1205.8 606.1L1207.1 606.8L1208.4 607.0L1209.8 606.5L1211.1 607.2L1212.4 606.9L1213.8 608.1L1215.1 608.1L1216.4 608.2L1217.8 607.8L1219.1 608.8L1220.4 608.7L1221.7 609.6L1223.1 609.5L1224.4 609.1L1225.7 609.9L1227.1 609.8L1228.4 609.1L1229.7 609.9L1231.1 609.2L1232.4 609.2L1233.7 609.3L1235.0 609.1L1236.4 609.5L1237.7 609.9L1239.0 610.9L1240.4 611.1L1241.7 610.6L1243.0 611.5L1244.4 610.8L1245.7 611.1L1247.0 611.4L1248.3 611.3L1249.7 612.3L1251.0 611.4L1252.3 611.8L1253.7 614.0L1255.0 614.2L1256.3 615.4L1257.7 614.0L1259.0 615.0L1260.3 614.1L1261.6 613.8L1263.0 613.7L1264.3 613.9L1265.6 613.0L1267.0 613.3L1268.3 612.5L1269.6 613.0L1271.0 614.1L1272.3 614.1L1273.6 613.1L1274.9 613.0L1276.3 611.9L1277.6 610.7L1278.9 610.8L1280.3 610.7L1281.6 610.6L1282.9 611.2L1284.3 612.8L1285.6 611.7L1286.9 612.9L1288.2 613.3L1289.6 613.5L1290.9 612.8L1292.2 613.4L1293.6 613.4L1294.9 613.2L1296.2 612.1L1297.6 611.3L1298.9 611.9L1300.2 611.8L1301.5 611.4L1302.9 610.8L1304.2 611.1L1305.5 610.9L1306.9 611.1L1308.2 610.0L1309.5 610.6L1310.9 610.4L1312.2 609.9L1313.5 610.4L1314.8 610.3L1316.2 610.1L1317.5 610.3L1318.8 608.8L1320.2 608.7L1321.5 608.2L1322.8 607.4L1324.2 607.7L1325.5 606.6L1326.8 606.5L1328.1 607.3L1329.5 607.4L1330.8 608.2L1332.1 607.9L1333.5 607.5L1334.8 608.6L1336.1 608.3L1337.5 608.3L1338.8 610.5L1340.1 609.8L1341.4 610.1L1342.8 610.2L1344.1 610.9L1345.4 610.3L1346.8 610.9L1348.1 610.0L1349.4 609.9L1350.8 611.3L1352.1 611.5L1353.4 611.2L1354.7 611.2L1356.1 611.3L1357.4 611.1L1358.7 612.6L1360.1 613.1L1361.4 613.9L1362.7 614.7L1364.1 615.6L1365.4 614.6L1366.7 613.9L1368.0 612.3L1369.4 612.3L1370.7 612.2L1372.0 610.7L1373.4 611.2L1374.7 611.9L1376.0 612.2L1377.4 612.4L1378.7 611.2L1380.0 611.6L1381.3 610.3L1382.7 610.0L1384.0 610.0L1385.3 609.4L1386.7 610.0L1388.0 611.1L1389.3 610.1L1390.7 610.2L1392.0 609.4L1393.3 609.2L1394.6 608.8L1396.0 608.8L1397.3 608.2L1398.6 608.3L1400.0 608.4L1401.3 607.9L1402.6 607.6L1404.0 607.5L1405.3 608.3L1406.6 608.0L1407.9 608.3L1409.3 608.2L1410.6 607.5L1411.9 607.8L1413.3 606.8L1414.6 608.4L1415.9 607.9L1417.3 607.2L1418.6 606.7L1419.9 607.3L1421.2 606.2L1422.6 606.6L1423.9 607.3"/>
<path stroke="#d62728" d="M226.9 781.5L1424.0 782.7"/>
<path stroke="#ff9896" d="M226.9 752.4L1424.0 753.9"/>
<path stroke="#9467bd" d="M226.9 690.0L228.2 689.9L229.6 690.6L230.9 690.0L232.2 690.7L233.6 690.5L234.9 690.5L236.2 691.2L237.5 690.8L238.9 692.1L240.2 691.3L241.5 692.5L242.9 691.4L244.2 692.3L245.5 691.5L246.9 691.3L248.2 691.8L249.5 691.8L250.8 690.9L252.2 691.8L253.5 690.8L254.8 691.1L256.2 691.4L257.5 691.7L258.8 690.9L260.2 692.5L261.5 692.3L262.8 692.1L264.1 692.0L265.5 691.8L266.8 692.1L268.1 692.9L269.5 692.6L270.8 692.3L272.1 692.4L273.5 693.0L274.8 692.1L276.1 691.8L277.4 692.4L278.8 691.9L280.1 691.8L281.4 691.6L282.8 691.3L284.1 691.5L285.4 691.8L286.8 691.9L288.1 692.2L289.4 692.4L290.7 692.3L292.1 692.4L293.4 692.0L294.7 691.6L296.1 691.9L297.4 691.4L298.7 691.1L300.1 690.9L301.4 690.2L302.7 689.9L304.0 690.5L305.4 690.9L306.7 690.8L308.0 691.5L309.4 691.2L310.7 690.8L312.0 691.2L313.4 691.8L314.7 690.7L316.0 691.4L317.3 691.4L318.7 691.4L320.0 690.5L321.3 691.6L322.7 690.8L324.0 690.6L325.3 690.8L326.7 691.2L328.0 691.2L329.3 691.2L330.6 691.9L332.0 691.3L333.3 691.3L334.6 692.0L336.0 691.9L337.3 691.9L338.6 691.0L340.0 691.7L341.3 691.4L342.6 691.8L343.9 690.5L345.3 690.8L346.6 690.4L347.9 689.7L349.3 689.8L350.6 690.4L351.9 689.7L353.3 689.5L354.6 690.1L355.9 690.0L357.2 689.9L358.6 689.2L359.9 689.6L361.2 690.1L362.6 689.5L363.9 689.5L365.2 690.2L366.6 690.6L367.9 689.6L369.2 689.1L370.5 689.6L371.9 689.9L373.2 690.3L374.5 690.8L375.9 690.6L377.2 690.5L378.5 690.9L379.9 690.6L381.2 691.1L382.5 690.9L383.8 691.9L385.2 690.9L386.5 689.9L387.8 689.5L389.2 689.4L390.5 688.6L391.8 689.2L393.2 689.4L394.5 690.2L395.8 689.9L397.1 689.9L398.5 689.5L399.8 689.3L401.1 689.6L402.5 689.3L403.8 689.8L405.1 689.1L406.5 689.9L407.8 689.7L409.1 689.7L410.4 688.9L411.8 689.3L413.1 690.2L414.4 690.6L415.8 690.2L417.1 690.5L418.4 690.2L419.8 690.3L421.1 690.3L422.4 691.1L423.7 690.8L425.1 690.3L426.4 690.1L427.7 690.3L429.1 690.0L430.4 689.3L431.7 690.1L433.1 689.4L434.4 689.5L435.7 690.3L437.0 690.3L438.4 690.1L439.7 690.5L441.0 689.9L442.4 690.2L443.7 689.7L445.0 691.2L446.4 690.0L447.7 691.2L449.0 690.7L450.3 690.7L451.7 691.1L453.0 691.3L454.3 691.5L455.7 692.0L457.0 691.5L458.3 691.8L459.7 691.2L461.0 691.6L462.3 691.2L463.6 690.9L465.0 690.9L466.3 690.8L467.6 691.0L469.0 691.2L470.3 691.1L471.6 691.2L473.0 692.2L474.3 691.6L475.6 692.4L476.9 693.7L478.3 692.4L479.6 693.6L480.9 694.9L482.3 694.7L483.6 697.2L484.9 695.9L486.3 698.3L487.6 699.2L488.9 699.7L490.2 699.9L491.6 700.7L492.9 700.7L494.2 701.9L495.6 700.8L496.9 700.6L498.2 700.6L499.6 699.3L500.9 699.8L502.2 700.2L503.5 699.8L504.9 701.0L506.2 700.4L507.5 699.4L508.9 699.6L510.2 699.0L511.5 698.8L512.9 698.8L514.2 698.2L515.5 698.5L516.8 697.6L518.2 698.0L519.5 697.3L520.8 697.4L522.2 696.6L523.5 696.3L524.8 695.8L526.2 696.6L527.5 697.2L528.8 698.1L530.1 698.1L531.5 698.0L532.8 697.8L534.1 698.1L535.5 697.9L536.8 698.2L538.1 697.4L539.5 697.0L540.8 697.7L542.1 698.6L543.4 696.9L544.8 695.4L546.1 694.7L547.4 692.8L548.8 693.0L550.1 693.1L551.4 692.7L552.8 694.0L554.1 692.6L555.4 692.2L556.7 691.5L558.1 691.4L559.4 690.8L560.7 690.9L562.1 690.3L563.4 691.0L564.7 690.5L566.1 691.3L567.4 691.4L568.7 691.5L570.0 692.5L571.4 692.1L572.7 692.4L574.0 692.4L575.4 692.5L576.7 693.1L578.0 693.0L579.4 691.9L580.7 692.7L582.0 692.3L583.3 692.3L584.7 691.9L586.0 691.1L587.3 690.9L588.7 691.8L590.0 690.9L591.3 690.0L592.7 690.5L594.0 690.2L595.3 690.3L596.6 690.7L598.0 691.7L599.3 692.4L600.6 691.7L602.0 691.0L603.3 690.9L604.6 690.9L606.0 689.7L607.3 690.3L608.6 690.0L609.9 689.7L611.3 689.8L612.6 689.7L613.9 689.4L615.3 688.7L616.6 688.8L617.9 689.5L619.3 688.4L620.6 688.2L621.9 689.1L623.2 689.3L624.6 689.4L625.9 688.9L627.2 689.8L628.6 689.2L629.9 689.1L631.2 689.3L632.6 689.6L633.9 690.0L635.2 690.0L636.5 690.0L637.9 690.5L639.2 690.4L640.5 690.9L641.9 690.2L643.2 690.3L644.5 691.5L645.9 690.7L647.2 690.7L648.5 690.3L649.8 689.7L651.2 689.3L652.5 690.1L653.8 688.6L655.2 690.1L656.5 690.8L657.8 690.0L659.2 690.1L660.5 690.5L661.8 691.0L663.1 689.9L664.5 690.6L665.8 690.6L667.1 691.0L668.5 691.0L669.8 691.3L671.1 691.0L672.5 691.3L673.8 691.2L675.1 691.3L676.4 691.7L677.8 691.7L679.1 691.2L680.4 692.3L681.8 691.5L683.1 690.9L684.4 691.9L685.8 691.0L687.1 691.5L688.4 691.2L689.7 691.3L691.1 691.2L692.4 690.8L693.7 691.0L695.1 691.7L696.4 690.1L697.7 691.2L699.1 691.5L700.4 691.0L701.7 691.0L703.0 692.6L704.4 691.7L705.7 692.8L707.0 692.3L708.4 692.2L709.7 692.4L711.0 692.6L712.4 692.9L713.7 692.6L715.0 692.6L716.3 692.7L717.7 693.3L719.0 693.1L720.3 692.5L721.7 692.7L723.0 693.2L724.3 692.9L725.7 693.0L727.0 692.5L728.3 692.6L729.6 692.6L731.0 692.6L732.3 692.0L733.6 693.0L735.0 692.4L736.3 693.9L737.6 693.3L739.0 693.3L740.3 693.0L741.6 692.0L742.9 692.9L744.3 692.9L745.6 693.5L746.9 692.1L748.3 693.3L749.6 692.3L750.9 692.6L752.3 691.1L753.6 692.1L754.9 691.8L756.2 692.1L757.6 691.7L758.9 691.2L760.2 692.2L761.6 692.2L762.9 692.3L764.2 692.6L765.6 692.7L766.9 692.1L768.2 691.4L769.5 691.2L770.9 692.0L772.2 691.6L773.5 691.1L774.9 690.7L776.2 690.6L777.5 690.6L778.9 690.6L780.2 690.5L781.5 691.7L782.8 691.0L784.2 690.8L785.5 690.7L786.8 691.1L788.2 691.8L789.5 691.9L790.8 691.4L792.2 691.3L793.5 691.0L794.8 690.5L796.1 691.3L797.5 690.8L798.8 691.5L800.1 690.0L801.5 690.1L802.8 690.4L804.1 689.9L805.5 689.3L806.8 689.4L808.1 689.7L809.4 689.6L810.8 689.6L812.1 690.2L813.4 690.3L814.8 690.2L816.1 690.2L817.4 690.6L818.8 691.3L820.1 691.9L821.4 691.3L822.7 690.9L824.1 690.1L825.4 689.2L826.7 689.1L828.1 689.7L829.4 689.5L830.7 689.9L832.1 689.2L833.4 689.4L834.7 689.6L836.0 689.6L837.4 689.1L838.7 689.4L840.0 689.7L841.4 689.4L842.7 690.1L844.0 690.5L845.4 690.0L846.7 691.6L848.0 691.2L849.3 691.9L850.7 692.4L852.0 692.8L853.3 693.9L854.7 694.0L856.0 694.9L857.3 694.7L858.7 694.9L860.0 694.8L861.3 694.6L862.6 695.2L864.0 694.9L865.3 695.6L866.6 695.2L868.0 695.9L869.3 695.5L870.6 695.9L872.0 696.2L873.3 696.7L874.6 697.4L875.9 697.5L877.3 696.8L878.6 697.2L879.9 697.8L881.3 695.8L882.6 694.9L883.9 694.7L885.3 694.6L886.6 695.8L887.9 695.4L889.2 695.5L890.6 695.9L891.9 695.9L893.2 694.4L894.6 695.2L895.9 695.0L897.2 694.9L898.6 695.0L899.9 694.8L901.2 695.3L902.5 694.7L903.9 694.3L905.2 694.4L906.5 694.0L907.9 693.6L909.2 693.3L910.5 693.6L911.9 692.8L913.2 692.4L914.5 691.8L915.8 691.8L917.2 691.3L918.5 691.8L919.8 691.9L921.2 691.0L922.5 691.8L923.8 692.1L925.2 692.0L926.5 691.6L927.8 692.7L929.1 692.1L930.5 692.0L931.8 692.3L933.1 692.5L934.5 692.6L935.8 692.2L937.1 691.5L938.5 690.9L939.8 691.2L941.1 691.2L942.4 691.5L943.8 690.9L945.1 691.7L946.4 692.2L947.8 692.2L949.1 692.7L950.4 692.4L951.8 692.4L953.1 692.9L954.4 693.7L955.7 693.8L957.1 693.3L958.4 694.1L959.7 693.6L961.1 694.4L962.4 693.8L963.7 693.3L965.1 693.6L966.4 692.1L967.7 691.1L969.0 691.3L970.4 692.4L971.7 692.6L973.0 693.0L974.4 693.3L975.7 694.5L977.0 693.7L978.4 693.1L979.7 693.5L981.0 693.5L982.3 693.2L983.7 692.6L985.0 693.3L986.3 694.0L987.7 693.9L989.0 694.7L990.3 693.6L991.7 693.9L993.0 692.8L994.3 693.8L995.6 693.5L997.0 694.3L998.3 694.0L999.6 694.0L1001.0 693.6L1002.3 693.1L1003.6 692.5L1005.0 693.4L1006.3 693.4L1007.6 692.5L1008.9 691.1L1010.3 690.5L1011.6 689.4L1012.9 689.7L1014.3 688.6L1015.6 688.0L1016.9 687.5L1018.3 686.9L1019.6 687.5L1020.9 687.4L1022.2 688.2L1023.6 688.3L1024.9 688.2L1026.2 688.6L1027.6 689.6L1028.9 688.8L1030.2 689.0L1031.6 689.6L1032.9 689.6L1034.2 689.9L1035.5 690.6L1036.9 691.2L1038.2 690.0L1039.5 690.9L1040.9 691.1L1042.2 691.2L1043.5 691.3L1044.9 691.3L1046.2 691.9L1047.5 691.4L1048.8 691.6L1050.2 691.7L1051.5 691.8L1052.8 692.0L1054.2 692.8L1055.5 692.8L1056.8 693.2L1058.2 693.4L1059.5 693.4L1060.8 693.7L1062.1 693.7L1063.5 694.3L1064.8 694.1L1066.1 694.0L1067.5 694.7L1068.8 694.5L1070.1 693.0L1071.5 693.8L1072.8 692.5L1074.1 692.3L1075.4 692.7L1076.8 692.2L1078.1 691.8L1079.4 692.8L1080.8 691.3L1082.1 691.6L1083.4 691.8L1084.8 691.0L1086.1 691.4L1087.4 691.5L1088.7 692.3L1090.1 690.9L1091.4 691.2L1092.7 691.4L1094.1 691.1L1095.4 690.5L1096.7 691.1L1098.1 690.8L1099.4 690.4L1100.7 690.2L1102.0 689.7L1103.4 689.0L1104.7 688.4L1106.0 687.7L1107.4 688.0L1108.7 688.0L1110.0 687.7L1111.4 687.8L1112.7 687.3L1114.0 688.2L1115.3 688.4L1116.7 687.3L1118.0 687.5L1119.3 687.2L1120.7 687.7L1122.0 687.4L1123.3 687.3L1124.7 687.3L1126.0 687.5L1127.3 687.1L1128.6 687.8L1130.0 687.3L1131.3 687.9L1132.6 687.9L1134.0 688.4L1135.3 688.1L1136.6 688.6L1138.0 688.0L1139.3 688.7L1140.6 688.5L1141.9 688.8L1143.3 688.8L1144.6 689.0L1145.9 687.7L1147.3 688.5L1148.6 687.7L1149.9 688.7L1151.3 687.7L1152.6 688.3L1153.9 688.3L1155.2 689.9L1156.6 689.0L1157.9 689.8L1159.2 689.8L1160.6 689.6L1161.9 690.5L1163.2 691.1L1164.6 691.1L1165.9 691.8L1167.2 691.5L1168.5 692.0L1169.9 692.1L1171.2 692.5L1172.5 693.2L1173.9 692.7L1175.2 692.8L1176.5 692.6L1177.9 692.7L1179.2 693.7L1180.5 692.8L1181.8 693.0L1183.2 693.3L1184.5 692.4L1185.8 692.7L1187.2 690.2L1188.5 690.6L1189.8 690.0L1191.2 688.6L1192.5 688.0L1193.8 687.7L1195.1 688.2L1196.5 687.4L1197.8 687.5L1199.1 688.7L1200.5 689.2L1201.8 688.8L1203.1 688.3L1204.5 689.9L1205.8 689.4L1207.1 690.0L1208.4 689.7L1209.8 689.7L1211.1 689.8L1212.4 690.7L1213.8 690.8L1215.1 689.5L1216.4 690.2L1217.8 691.4L1219.1 690.8L1220.4 690.5L1221.7 691.2L1223.1 691.3L1224.4 691.3L1225.7 691.1L1227.1 691.2L1228.4 691.1L1229.7 691.4L1231.1 690.9L1232.4 691.1L1233.7 691.1L1235.0 691.8L1236.4 691.6L1237.7 691.6L1239.0 692.0L1240.4 692.1L1241.7 692.5L1243.0 692.3L1244.4 692.9L1245.7 692.7L1247.0 692.2L1248.3 692.1L1249.7 692.7L1251.0 692.6L1252.3 693.0L1253.7 693.1L1255.0 693.6L1256.3 695.1L1257.7 695.2L1259.0 694.7L1260.3 693.3L1261.6 694.1L1263.0 693.4L1264.3 693.6L1265.6 693.6L1267.0 693.0L1268.3 693.0L1269.6 692.7L1271.0 693.4L1272.3 693.3L1273.6 694.0L1274.9 693.3L1276.3 693.1L1277.6 692.4L1278.9 691.6L1280.3 692.3L1281.6 692.2L1282.9 692.8L1284.3 692.9L1285.6 692.6L1286.9 693.2L1288.2 693.4L1289.6 693.3L1290.9 693.9L1292.2 694.4L1293.6 693.4L1294.9 693.1L1296.2 692.0L1297.6 692.6L1298.9 692.2L1300.2 691.5L1301.5 692.4L1302.9 692.4L1304.2 691.8L1305.5 691.8L1306.9 691.5L1308.2 692.2L1309.5 691.2L1310.9 691.6L1312.2 692.5L1313.5 691.7L1314.8 691.9L1316.2 691.6L1317.5 691.1L1318.8 691.1L1320.2 690.9L1321.5 689.9L1322.8 690.0L1324.2 690.2L1325.5 690.2L1326.8 689.1L1328.1 689.4L1329.5 689.1L1330.8 690.2L1332.1 690.2L1333.5 690.5L1334.8 690.1L1336.1 690.2L1337.5 690.9L1338.8 691.1L1340.1 690.9L1341.4 691.4L1342.8 691.7L1344.1 691.6L1345.4 691.1L1346.8 690.8L1348.1 691.6L1349.4 691.8L1350.8 691.7L1352.1 691.7L1353.4 691.7L1354.7 692.4L1356.1 692.1L1357.4 692.3L1358.7 692.1L1360.1 692.8L1361.4 693.7L1362.7 693.8L1364.1 694.0L1365.4 693.9L1366.7 694.0L1368.0 693.2L1369.4 693.2L1370.7 692.1L1372.0 691.8L1373.4 691.6L1374.7 692.1L1376.0 693.0L1377.4 692.8L1378.7 692.8L1380.0 692.5L1381.3 691.9L1382.7 691.5L1384.0 691.3L1385.3 691.3L1386.7 691.3L1388.0 691.4L1389.3 691.3L1390.7 690.9L1392.0 691.1L1393.3 690.7L1394.6 691.3L1396.0 689.9L1397.3 690.5L1398.6 691.4L1400.0 690.3L1401.3 689.9L1402.6 690.3L1404.0 690.7L1405.3 690.1L1406.6 690.3L1407.9 690.0L1409.3 689.8L1410.6 691.1L1411.9 689.8L1413.3 689.5L1414.6 689.5L1415.9 689.8L1417.3 689.8L1418.6 689.9L1419.9 689.6L1421.2 688.9L1422.6 689.7L1423.9 689.3"/>
<path stroke="#c5b0d5" d="M226.9 704.4L228.2 704.1L229.6 704.6L230.9 704.7L232.2 705.2L233.6 704.8L234.9 705.6L236.2 705.8L237.5 705.5L238.9 705.9L240.2 706.0L241.5 706.9L242.9 705.7L244.2 706.8L245.5 706.2L246.9 706.5L248.2 706.9L249.5 706.1L250.8 706.3L252.2 705.7L253.5 706.7L254.8 706.1L256.2 706.4L257.5 705.7L258.8 706.0L260.2 707.1L261.5 706.9L262.8 707.1L264.1 707.5L265.5 707.0L266.8 707.9L268.1 707.7L269.5 708.0L270.8 707.5L272.1 707.8L273.5 707.1L274.8 707.5L276.1 707.4L277.4 707.1L278.8 706.8L280.1 706.9L281.4 705.6L282.8 707.1L284.1 706.7L285.4 706.9L286.8 706.8L288.1 706.4L289.4 706.9L290.7 707.4L292.1 707.8L293.4 707.1L294.7 707.1L296.1 707.6L297.4 706.3L298.7 707.0L300.1 705.8L301.4 705.1L302.7 705.4L304.0 705.9L305.4 705.0L306.7 706.5L308.0 706.0L309.4 706.8L310.7 705.9L312.0 705.3L313.4 706.1L314.7 706.1L316.0 706.5L317.3 706.3L318.7 705.9L320.0 705.5L321.3 705.3L322.7 705.4L324.0 705.1L325.3 705.5L326.7 704.8L328.0 706.0L329.3 706.1L330.6 707.3L332.0 706.8L333.3 706.4L334.6 706.8L336.0 706.0L337.3 706.1L338.6 705.5L340.0 706.7L341.3 706.3L342.6 705.5L343.9 705.7L345.3 705.9L346.6 705.5L347.9 705.2L349.3 704.4L350.6 704.4L351.9 704.5L353.3 704.8L354.6 704.0L355.9 703.8L357.2 704.6L358.6 703.7L359.9 704.6L361.2 704.4L362.6 704.7L363.9 705.1L365.2 704.8L366.6 704.9L367.9 704.3L369.2 704.5L370.5 705.1L371.9 705.6L373.2 705.7L374.5 706.2L375.9 705.5L377.2 705.6L378.5 706.1L379.9 705.8L381.2 705.9L382.5 705.6L383.8 706.1L385.2 704.9L386.5 705.2L387.8 704.0L389.2 704.7L390.5 703.4L391.8 704.4L393.2 703.7L394.5 704.3L395.8 705.2L397.1 704.6L398.5 704.7L399.8 704.3L401.1 703.3L402.5 704.2L403.8 704.1L405.1 703.6L406.5 704.3L407.8 703.9L409.1 703.9L410.4 704.4L411.8 704.2L413.1 705.5L414.4 704.1L415.8 705.1L417.1 705.4L418.4 704.3L419.8 704.6L421.1 705.6L422.4 705.3L423.7 705.6L425.1 705.7L426.4 704.8L427.7 704.3L429.1 703.5L430.4 704.4L431.7 703.7L433.1 704.1L434.4 704.3L435.7 703.8L437.0 705.3L438.4 705.3L439.7 705.4L441.0 704.7L442.4 705.1L443.7 705.2L445.0 705.3L446.4 705.2L447.7 705.9L449.0 706.0L450.3 706.1L451.7 705.9L453.0 706.7L454.3 706.3L455.7 705.2L457.0 706.1L458.3 706.4L459.7 706.7L461.0 706.1L462.3 706.0L463.6 705.7L465.0 706.1L466.3 705.5L467.6 705.5L469.0 705.7L470.3 706.4L471.6 706.2L473.0 706.2L474.3 707.6L475.6 707.6L476.9 708.5L478.3 708.9L479.6 709.7L480.9 710.5L482.3 710.8L483.6 711.8L484.9 712.3L486.3 714.4L487.6 714.8L488.9 716.1L490.2 716.2L491.6 716.1L492.9 718.2L494.2 718.2L495.6 717.8L496.9 717.2L498.2 716.8L499.6 716.2L500.9 715.6L502.2 716.9L503.5 716.5L504.9 716.8L506.2 717.3L507.5 716.7L508.9 715.8L510.2 714.8L511.5 715.3L512.9 715.1L514.2 714.5L515.5 713.7L516.8 713.6L518.2 713.1L519.5 713.4L520.8 713.3L522.2 713.1L523.5 712.1L524.8 712.2L526.2 712.4L527.5 712.5L528.8 713.1L530.1 714.5L531.5 714.0L532.8 714.3L534.1 713.8L535.5 714.0L536.8 712.9L538.1 712.9L539.5 713.8L540.8 714.9L542.1 714.6L543.4 712.9L544.8 711.2L546.1 709.5L547.4 708.2L548.8 708.7L550.1 708.3L551.4 709.2L552.8 708.6L554.1 707.7L555.4 707.3L556.7 706.2L558.1 705.6L559.4 706.3L560.7 705.8L562.1 706.0L563.4 706.5L564.7 706.6L566.1 705.9L567.4 706.8L568.7 706.7L570.0 706.8L571.4 707.2L572.7 706.7L574.0 707.2L575.4 707.8L576.7 708.3L578.0 707.7L579.4 707.6L580.7 707.8L582.0 707.8L583.3 707.4L584.7 707.4L586.0 706.5L587.3 706.3L588.7 706.2L590.0 705.7L591.3 705.3L592.7 705.9L594.0 705.1L595.3 705.6L596.6 707.0L598.0 708.3L599.3 707.5L600.6 707.3L602.0 706.0L603.3 705.6L604.6 705.4L606.0 705.4L607.3 706.1L608.6 704.8L609.9 705.8L611.3 704.5L612.6 704.5L613.9 704.6L615.3 704.2L616.6 703.8L617.9 702.7L619.3 703.6L620.6 703.2L621.9 704.8L623.2 703.8L624.6 704.0L625.9 703.6L627.2 704.0L628.6 703.8L629.9 704.7L631.2 704.3L632.6 704.7L633.9 704.3L635.2 704.4L636.5 705.4L637.9 704.7L639.2 704.6L640.5 705.7L641.9 705.3L643.2 705.9L644.5 706.6L645.9 706.0L647.2 706.2L648.5 705.0L649.8 705.4L651.2 704.8L652.5 704.2L653.8 704.4L655.2 704.3L656.5 704.8L657.8 705.3L659.2 704.4L660.5 705.5L661.8 704.7L663.1 705.1L664.5 704.8L665.8 706.5L667.1 705.9L668.5 706.1L669.8 705.9L671.1 706.7L672.5 705.6L673.8 706.6L675.1 707.6L676.4 706.8L677.8 707.0L679.1 707.2L680.4 706.5L681.8 706.7L683.1 707.0L684.4 706.6L685.8 706.6L687.1 706.3L688.4 706.5L689.7 706.3L691.1 706.8L692.4 706.4L693.7 705.9L695.1 705.0L696.4 706.4L697.7 706.6L699.1 706.1L700.4 705.8L701.7 706.3L703.0 707.3L704.4 706.7L705.7 707.1L707.0 707.4L708.4 707.9L709.7 707.5L711.0 707.6L712.4 707.5L713.7 708.5L715.0 708.3L716.3 708.0L717.7 707.6L719.0 707.9L720.3 708.6L721.7 708.1L723.0 708.9L724.3 708.8L725.7 708.7L727.0 708.6L728.3 708.3L729.6 707.5L731.0 707.4L732.3 708.2L733.6 707.0L735.0 707.5L736.3 708.4L737.6 708.2L739.0 708.2L740.3 708.1L741.6 708.8L742.9 708.8L744.3 708.8L745.6 708.2L746.9 708.4L748.3 707.5L749.6 707.8L750.9 707.3L752.3 707.6L753.6 707.7L754.9 707.7L756.2 706.7L757.6 707.5L758.9 706.7L760.2 706.7L761.6 707.1L762.9 706.8L764.2 707.5L765.6 707.8L766.9 707.4L768.2 707.4L769.5 706.9L770.9 706.7L772.2 705.9L773.5 706.2L774.9 705.6L776.2 705.5L777.5 705.7L778.9 705.9L780.2 705.3L781.5 705.4L782.8 706.0L784.2 706.4L785.5 706.6L786.8 706.9L788.2 707.3L789.5 707.1L790.8 706.7L792.2 706.1L793.5 706.0L794.8 706.0L796.1 706.1L797.5 705.9L798.8 705.6L800.1 705.3L801.5 705.5L802.8 705.2L804.1 705.1L805.5 705.0L806.8 704.5L808.1 704.2L809.4 704.7L810.8 704.8L812.1 704.7L813.4 704.8L814.8 706.0L816.1 705.0L817.4 705.7L818.8 706.4L820.1 706.4L821.4 706.5L822.7 706.6L824.1 705.7L825.4 705.0L826.7 704.7L828.1 704.4L829.4 704.6L830.7 704.1L832.1 703.9L833.4 704.0L834.7 704.4L836.0 704.3L837.4 704.6L838.7 703.7L840.0 705.2L841.4 705.8L842.7 705.5L844.0 705.1L845.4 705.0L846.7 706.1L848.0 706.3L849.3 707.6L850.7 707.8L852.0 709.1L853.3 709.9L854.7 708.9L856.0 710.1L857.3 710.0L858.7 710.0L860.0 710.5L861.3 711.0L862.6 711.5L864.0 710.5L865.3 711.6L866.6 711.9L868.0 711.4L869.3 711.4L870.6 711.5L872.0 711.7L873.3 713.0L874.6 713.5L875.9 713.6L877.3 714.3L878.6 713.4L879.9 713.0L881.3 712.5L882.6 710.4L883.9 710.4L885.3 710.9L886.6 710.9L887.9 711.6L889.2 711.2L890.6 711.7L891.9 711.4L893.2 710.9L894.6 710.5L895.9 710.9L897.2 711.0L898.6 710.2L899.9 710.8L901.2 710.8L902.5 710.3L903.9 710.5L905.2 710.1L906.5 709.0L907.9 709.1L909.2 708.4L910.5 708.7L911.9 707.8L913.2 708.3L914.5 707.8L915.8 707.7L917.2 707.0L918.5 706.6L919.8 707.9L921.2 707.2L922.5 707.8L923.8 707.5L925.2 707.6L926.5 708.2L927.8 707.8L929.1 708.4L930.5 707.5L931.8 708.6L933.1 708.0L934.5 707.6L935.8 707.2L937.1 706.9L938.5 707.4L939.8 706.1L941.1 706.9L942.4 706.7L943.8 707.5L945.1 707.0L946.4 707.6L947.8 707.6L949.1 708.3L950.4 708.8L951.8 708.5L953.1 708.8L954.4 708.4L955.7 709.2L957.1 709.6L958.4 709.2L959.7 710.0L961.1 708.8L962.4 708.6L963.7 708.6L965.1 708.8L966.4 708.0L967.7 706.9L969.0 707.3L970.4 708.1L971.7 708.0L973.0 708.2L974.4 708.7L975.7 710.6L977.0 708.7L978.4 709.1L979.7 709.2L981.0 708.7L982.3 708.4L983.7 709.0L985.0 709.6L986.3 710.0L987.7 709.3L989.0 710.2L990.3 710.1L991.7 709.8L993.0 709.3L994.3 708.8L995.6 708.7L997.0 709.9L998.3 710.8L999.6 710.7L1001.0 709.9L1002.3 710.0L1003.6 708.2L1005.0 708.9L1006.3 708.3L1007.6 708.0L1008.9 707.0L1010.3 706.4L1011.6 704.5L1012.9 703.9L1014.3 702.8L1015.6 702.9L1016.9 702.4L1018.3 702.8L1019.6 702.2L1020.9 702.6L1022.2 703.4L1023.6 703.2L1024.9 703.7L1026.2 703.9L1027.6 703.8L1028.9 703.6L1030.2 704.9L1031.6 704.9L1032.9 705.5L1034.2 704.6L1035.5 705.0L1036.9 705.0L1038.2 705.7L1039.5 706.7L1040.9 706.7L1042.2 706.6L1043.5 706.9L1044.9 707.2L1046.2 706.9L1047.5 707.2L1048.8 707.2L1050.2 706.3L1051.5 707.1L1052.8 708.2L1054.2 707.9L1055.5 708.4L1056.8 708.6L1058.2 709.1L1059.5 710.1L1060.8 709.8L1062.1 709.6L1063.5 708.9L1064.8 710.1L1066.1 709.6L1067.5 709.8L1068.8 710.5L1070.1 709.8L1071.5 708.1L1072.8 708.5L1074.1 708.2L1075.4 707.5L1076.8 708.0L1078.1 706.9L1079.4 707.0L1080.8 706.7L1082.1 706.7L1083.4 707.4L1084.8 706.4L1086.1 706.4L1087.4 706.5L1088.7 706.9L1090.1 706.6L1091.4 707.0L1092.7 706.3L1094.1 706.0L1095.4 706.3L1096.7 706.4L1098.1 705.8L1099.4 705.7L1100.7 705.8L1102.0 704.2L1103.4 703.9L1104.7 703.9L1106.0 702.8L1107.4 702.6L1108.7 702.4L1110.0 702.9L1111.4 702.9L1112.7 702.5L1114.0 702.5L1115.3 702.9L1116.7 702.7L1118.0 701.6L1119.3 702.1L1120.7 702.1L1122.0 702.4L1123.3 702.1L1124.7 702.0L1126.0 702.1L1127.3 701.7L1128.6 702.4L1130.0 702.3L1131.3 702.9L1132.6 702.4L1134.0 702.8L1135.3 702.7L1136.6 702.8L1138.0 703.7L1139.3 703.3L1140.6 703.9L1141.9 703.4L1143.3 704.0L1144.6 703.1L1145.9 703.4L1147.3 703.3L1148.6 703.6L1149.9 703.3L1151.3 703.5L1152.6 704.2L1153.9 704.2L1155.2 704.7L1156.6 705.1L1157.9 705.0L1159.2 705.3L1160.6 705.8L1161.9 705.8L1163.2 706.5L1164.6 707.1L1165.9 707.3L1167.2 707.1L1168.5 707.1L1169.9 707.9L1171.2 708.0L1172.5 708.6L1173.9 708.2L1175.2 708.4L1176.5 708.9L1177.9 708.6L1179.2 708.9L1180.5 709.8L1181.8 709.8L1183.2 709.4L1184.5 708.5L1185.8 707.1L1187.2 706.9L1188.5 705.9L1189.8 705.1L1191.2 704.0L1192.5 703.4L1193.8 702.5L1195.1 702.6L1196.5 703.4L1197.8 703.3L1199.1 702.8L1200.5 703.4L1201.8 703.5L1203.1 704.1L1204.5 704.8L1205.8 704.9L1207.1 704.7L1208.4 705.1L1209.8 704.9L1211.1 704.7L1212.4 704.9L1213.8 705.3L1215.1 706.4L1216.4 705.5L1217.8 706.7L1219.1 706.9L1220.4 706.5L1221.7 706.8L1223.1 706.7L1224.4 706.9L1225.7 707.2L1227.1 706.9L1228.4 707.3L1229.7 707.3L1231.1 707.0L1232.4 706.9L1233.7 706.7L1235.0 707.0L1236.4 706.6L1237.7 707.4L1239.0 707.5L1240.4 707.2L1241.7 708.6L1243.0 707.4L1244.4 707.5L1245.7 708.0L1247.0 707.2L1248.3 707.7L1249.7 707.5L1251.0 707.8L1252.3 708.8L1253.7 709.7L1255.0 710.8L1256.3 711.4L1257.7 711.5L1259.0 710.6L1260.3 709.6L1261.6 710.1L1263.0 709.3L1264.3 709.2L1265.6 709.9L1267.0 709.6L1268.3 709.3L1269.6 709.8L1271.0 710.1L1272.3 709.5L1273.6 709.8L1274.9 708.7L1276.3 708.6L1277.6 707.7L1278.9 708.1L1280.3 708.1L1281.6 707.8L1282.9 708.4L1284.3 708.1L1285.6 708.9L1286.9 709.4L1288.2 709.4L1289.6 708.7L1290.9 709.4L1292.2 709.9L1293.6 709.7L1294.9 709.7L1296.2 708.3L1297.6 708.7L1298.9 707.9L1300.2 708.2L1301.5 708.2L1302.9 708.2L1304.2 707.6L1305.5 707.8L1306.9 707.2L1308.2 707.0L1309.5 707.8L1310.9 707.5L1312.2 706.8L1313.5 707.1L1314.8 707.4L1316.2 707.9L1317.5 707.7L1318.8 707.1L1320.2 705.5L1321.5 705.7L1322.8 705.5L1324.2 705.3L1325.5 705.3L1326.8 705.1L1328.1 705.9L1329.5 705.8L1330.8 705.2L1332.1 705.0L1333.5 706.5L1334.8 705.7L1336.1 706.7L1337.5 707.2L1338.8 706.3L1340.1 707.0L1341.4 706.9L1342.8 707.3L1344.1 707.3L1345.4 708.0L1346.8 707.6L1348.1 707.4L1349.4 708.0L1350.8 707.5L1352.1 707.5L1353.4 708.7L1354.7 707.5L1356.1 707.8L1357.4 708.1L1358.7 708.0L1360.1 708.2L1361.4 710.1L1362.7 710.0L1364.1 710.5L1365.4 710.0L1366.7 709.2L1368.0 708.6L1369.4 708.6L1370.7 708.9L1372.0 708.1L1373.4 708.3L1374.7 707.6L1376.0 708.3L1377.4 708.1L1378.7 708.8L1380.0 708.0L1381.3 707.7L1382.7 707.3L1384.0 706.7L1385.3 706.1L1386.7 707.0L1388.0 706.3L1389.3 706.4L1390.7 706.8L1392.0 706.6L1393.3 706.8L1394.6 706.9L1396.0 706.4L1397.3 706.2L1398.6 706.1L1400.0 706.3L1401.3 705.2L1402.6 706.0L1404.0 705.4L1405.3 705.2L1406.6 705.6L1407.9 705.4L1409.3 705.7L1410.6 705.8L1411.9 704.4L1413.3 705.2L1414.6 706.0L1415.9 705.5L1417.3 705.7L1418.6 705.1L1419.9 704.4L1421.2 704.5L1422.6 705.2L1423.9 705.2"/>
<path stroke="#8c564b" d="M226.9 625.5L228.2 626.1L229.6 626.7L230.9 626.1L232.2 627.2L233.6 628.6L234.9 629.2L236.2 628.5L237.5 629.9L238.9 629.1L240.2 629.4L241.5 629.1L242.9 631.2L244.2 630.9L245.5 632.1L246.9 630.7L248.2 630.3L249.5 629.0L250.8 630.3L252.2 629.0L253.5 628.8L254.8 627.5L256.2 629.5L257.5 630.1L258.8 629.8L260.2 630.7L261.5 631.3L262.8 632.2L264.1 632.2L265.5 633.2L266.8 632.4L268.1 632.5L269.5 632.8L270.8 631.7L272.1 632.1L273.5 632.6L274.8 631.7L276.1 630.8L277.4 630.9L278.8 629.4L280.1 630.4L281.4 630.9L282.8 631.1L284.1 630.5L285.4 631.5L286.8 632.1L288.1 631.0L289.4 631.8L290.7 630.8L292.1 630.8L293.4 632.3L294.7 632.2L296.1 631.4L297.4 630.1L298.7 629.4L300.1 629.1L301.4 628.7L302.7 626.8L304.0 626.6L305.4 628.7L306.7 629.0L308.0 629.7L309.4 629.5L310.7 630.3L312.0 629.0L313.4 629.0L314.7 627.6L316.0 628.0L317.3 627.9L318.7 628.1L320.0 628.2L321.3 627.6L322.7 628.7L324.0 627.3L325.3 628.0L326.7 628.7L328.0 628.3L329.3 629.6L330.6 630.0L332.0 629.9L333.3 631.3L334.6 630.4L336.0 630.2L337.3 629.3L338.6 628.7L340.0 629.0L341.3 628.9L342.6 628.6L343.9 628.9L345.3 626.8L346.6 626.9L347.9 626.0L349.3 627.0L350.6 625.7L351.9 625.5L353.3 625.0L354.6 625.8L355.9 624.9L357.2 625.0L358.6 623.8L359.9 625.6L361.2 625.4L362.6 625.7L363.9 626.2L365.2 625.7L366.6 625.9L367.9 626.5L369.2 626.5L370.5 626.4L371.9 626.8L373.2 626.8L374.5 627.7L375.9 628.1L377.2 628.0L378.5 629.2L379.9 627.8L381.2 628.7L382.5 629.9L383.8 628.1L385.2 626.7L386.5 627.4L387.8 626.1L389.2 624.5L390.5 624.7L391.8 624.2L393.2 624.6L394.5 625.6L395.8 625.9L397.1 626.0L398.5 625.9L399.8 625.1L401.1 625.2L402.5 624.7L403.8 624.7L405.1 624.3L406.5 624.1L407.8 624.3L409.1 625.1L410.4 626.2L411.8 626.1L413.1 625.6L414.4 626.6L415.8 625.8L417.1 627.2L418.4 626.8L419.8 627.7L421.1 627.9L422.4 627.7L423.7 627.9L425.1 626.7L426.4 626.7L427.7 626.8L429.1 627.8L430.4 625.6L431.7 624.8L433.1 623.9L434.4 625.5L435.7 624.6L437.0 625.5L438.4 626.5L439.7 626.2L441.0 627.8L442.4 627.9L443.7 627.3L445.0 627.6L446.4 627.4L447.7 627.7L449.0 628.8L450.3 629.2L451.7 629.2L453.0 629.3L454.3 629.1L455.7 629.7L457.0 628.9L458.3 629.8L459.7 630.4L461.0 630.0L462.3 628.8L463.6 628.6L465.0 629.2L466.3 629.1L467.6 627.6L469.0 628.6L470.3 629.5L471.6 630.4L473.0 630.4L474.3 632.2L475.6 632.7L476.9 635.1L478.3 635.2L479.6 635.9L480.9 637.6L482.3 640.3L483.6 642.1L484.9 643.2L486.3 645.8L487.6 647.0L488.9 649.3L490.2 650.7L491.6 652.0L492.9 653.7L494.2 654.9L495.6 654.8L496.9 653.6L498.2 651.8L499.6 650.2L500.9 651.6L502.2 650.7L503.5 651.3L504.9 653.1L506.2 652.4L507.5 651.8L508.9 650.4L510.2 649.1L511.5 648.7L512.9 648.5L514.2 647.1L515.5 646.4L516.8 645.3L518.2 644.7L519.5 645.1L520.8 644.2L522.2 642.8L523.5 642.1L524.8 641.7L526.2 642.6L527.5 642.8L528.8 644.3L530.1 644.4L531.5 645.6L532.8 646.4L534.1 646.6L535.5 645.6L536.8 644.9L538.1 644.2L539.5 644.6L540.8 646.2L542.1 646.8L543.4 643.4L544.8 640.6L546.1 637.2L547.4 633.4L548.8 634.1L550.1 634.5L551.4 634.3L552.8 634.9L554.1 634.6L555.4 631.6L556.7 631.2L558.1 629.2L559.4 628.3L560.7 628.8L562.1 628.9L563.4 629.4L564.7 628.7L566.1 629.0L567.4 629.3L568.7 630.9L570.0 631.0L571.4 630.6L572.7 631.4L574.0 631.8L575.4 632.7L576.7 633.3L578.0 633.9L579.4 631.4L580.7 632.4L582.0 631.7L583.3 630.7L584.7 630.5L586.0 629.9L587.3 629.6L588.7 629.5L590.0 627.6L591.3 628.3L592.7 626.8L594.0 627.8L595.3 628.9L596.6 631.0L598.0 632.4L599.3 632.5L600.6 630.5L602.0 628.6L603.3 628.5L604.6 628.3L606.0 628.7L607.3 626.3L608.6 627.0L609.9 627.3L611.3 625.7L612.6 625.5L613.9 626.0L615.3 625.0L616.6 623.2L617.9 623.7L619.3 623.8L620.6 623.9L621.9 623.9L623.2 624.1L624.6 623.8L625.9 624.3L627.2 625.2L628.6 625.0L629.9 626.0L631.2 625.1L632.6 624.2L633.9 625.3L635.2 625.8L636.5 626.4L637.9 626.7L639.2 626.8L640.5 628.5L641.9 627.9L643.2 629.1L644.5 629.1L645.9 628.9L647.2 629.0L648.5 625.9L649.8 625.6L651.2 625.1L652.5 624.9L653.8 625.7L655.2 625.6L656.5 625.7L657.8 627.3L659.2 626.4L660.5 626.7L661.8 626.5L663.1 627.0L664.5 628.0L665.8 628.3L667.1 628.3L668.5 628.3L669.8 629.3L671.1 628.4L672.5 629.5L673.8 629.8L675.1 629.9L676.4 630.7L677.8 630.4L679.1 630.2L680.4 631.3L681.8 630.6L683.1 630.7L684.4 629.9L685.8 630.2L687.1 629.9L688.4 630.0L689.7 630.4L691.1 628.9L692.4 629.0L693.7 628.7L695.1 626.8L696.4 628.2L697.7 629.3L699.1 629.9L700.4 629.7L701.7 630.9L703.0 631.4L704.4 630.9L705.7 632.1L707.0 632.4L708.4 632.0L709.7 631.5L711.0 632.9L712.4 632.3L713.7 632.4L715.0 632.8L716.3 632.7L717.7 633.8L719.0 633.8L720.3 634.3L721.7 634.2L723.0 633.7L724.3 634.3L725.7 634.7L727.0 633.5L728.3 634.6L729.6 632.4L731.0 631.7L732.3 632.0L733.6 632.2L735.0 632.4L736.3 632.9L737.6 633.8L739.0 634.6L740.3 634.8L741.6 634.0L742.9 634.1L744.3 634.0L745.6 633.6L746.9 631.4L748.3 632.2L749.6 632.0L750.9 632.0L752.3 631.9L753.6 632.0L754.9 631.5L756.2 630.9L757.6 630.7L758.9 631.4L760.2 630.6L761.6 631.4L762.9 632.3L764.2 632.0L765.6 631.2L766.9 632.0L768.2 631.1L769.5 630.6L770.9 630.7L772.2 629.8L773.5 628.9L774.9 628.9L776.2 628.1L777.5 628.0L778.9 628.3L780.2 628.5L781.5 628.4L782.8 628.5L784.2 629.1L785.5 629.0L786.8 629.2L788.2 630.8L789.5 630.4L790.8 630.1L792.2 629.6L793.5 629.3L794.8 628.8L796.1 628.5L797.5 627.6L798.8 628.1L800.1 626.8L801.5 627.4L802.8 625.6L804.1 625.8L805.5 626.5L806.8 625.7L808.1 625.1L809.4 625.4L810.8 624.9L812.1 625.9L813.4 625.1L814.8 626.4L816.1 626.7L817.4 628.4L818.8 629.7L820.1 630.0L821.4 630.3L822.7 628.0L824.1 626.0L825.4 624.5L826.7 625.8L828.1 624.8L829.4 624.3L830.7 624.1L832.1 623.7L833.4 624.7L834.7 624.1L836.0 625.4L837.4 624.8L838.7 624.0L840.0 626.0L841.4 625.8L842.7 626.2L844.0 627.5L845.4 626.9L846.7 629.0L848.0 629.9L849.3 631.0L850.7 633.1L852.0 634.0L853.3 636.4L854.7 637.0L856.0 637.2L857.3 638.0L858.7 638.6L860.0 638.8L861.3 639.9L862.6 639.5L864.0 640.0L865.3 639.2L866.6 639.7L868.0 639.9L869.3 639.3L870.6 640.3L872.0 641.6L873.3 643.5L874.6 644.1L875.9 644.6L877.3 645.0L878.6 644.2L879.9 642.6L881.3 641.3L882.6 639.7L883.9 639.0L885.3 640.0L886.6 640.1L887.9 640.3L889.2 639.8L890.6 639.1L891.9 638.7L893.2 638.5L894.6 638.8L895.9 638.7L897.2 638.4L898.6 638.5L899.9 638.7L901.2 637.5L902.5 637.2L903.9 636.6L905.2 636.2L906.5 635.5L907.9 634.9L909.2 633.9L910.5 634.1L911.9 633.3L913.2 631.7L914.5 631.9L915.8 630.7L917.2 631.7L918.5 630.7L919.8 630.8L921.2 631.1L922.5 631.0L923.8 631.2L925.2 632.1L926.5 631.7L927.8 632.4L929.1 633.0L930.5 632.4L931.8 634.1L933.1 633.3L934.5 632.4L935.8 630.5L937.1 630.4L938.5 630.3L939.8 630.0L941.1 631.5L942.4 630.8L943.8 630.5L945.1 630.9L946.4 631.9L947.8 632.7L949.1 633.2L950.4 634.2L951.8 634.9L953.1 633.8L954.4 634.5L955.7 634.6L957.1 635.5L958.4 636.5L959.7 636.4L961.1 635.7L962.4 635.6L963.7 635.8L965.1 634.5L966.4 632.6L967.7 630.4L969.0 630.4L970.4 632.6L971.7 633.4L973.0 634.5L974.4 634.9L975.7 636.1L977.0 635.9L978.4 635.3L979.7 634.1L981.0 633.9L982.3 635.3L983.7 635.5L985.0 635.0L986.3 635.6L987.7 637.2L989.0 636.7L990.3 637.6L991.7 636.4L993.0 634.1L994.3 634.6L995.6 635.6L997.0 635.9L998.3 636.7L999.6 637.9L1001.0 637.1L1002.3 634.7L1003.6 633.9L1005.0 633.6L1006.3 633.0L1007.6 633.5L1008.9 629.1L1010.3 627.6L1011.6 626.1L1012.9 623.6L1014.3 623.0L1015.6 621.8L1016.9 620.3L1018.3 621.0L1019.6 620.4L1020.9 621.4L1022.2 621.7L1023.6 622.3L1024.9 623.4L1026.2 623.5L1027.6 624.5L1028.9 624.8L1030.2 624.5L1031.6 625.8L1032.9 626.5L1034.2 626.2L1035.5 628.2L1036.9 628.0L1038.2 628.5L1039.5 628.4L1040.9 629.3L1042.2 629.8L1043.5 630.0L1044.9 630.3L1046.2 629.4L1047.5 631.3L1048.8 630.2L1050.2 629.8L1051.5 630.6L1052.8 631.4L1054.2 633.0L1055.5 633.1L1056.8 634.6L1058.2 634.9L1059.5 637.3L1060.8 637.0L1062.1 638.0L1063.5 636.8L1064.8 637.9L1066.1 637.4L1067.5 638.5L1068.8 637.8L1070.1 635.2L1071.5 633.9L1072.8 632.4L1074.1 631.8L1075.4 631.9L1076.8 631.5L1078.1 630.9L1079.4 631.4L1080.8 631.3L1082.1 630.1L1083.4 630.1L1084.8 630.2L1086.1 630.0L1087.4 629.7L1088.7 630.4L1090.1 630.3L1091.4 630.1L1092.7 629.4L1094.1 630.4L1095.4 630.1L1096.7 628.8L1098.1 628.4L1099.4 627.9L1100.7 625.7L1102.0 625.0L1103.4 623.6L1104.7 622.1L1106.0 621.7L1107.4 620.8L1108.7 621.1L1110.0 620.2L1111.4 622.1L1112.7 621.5L1114.0 621.2L1115.3 620.5L1116.7 620.6L1118.0 620.5L1119.3 620.2L1120.7 620.0L1122.0 619.3L1123.3 620.1L1124.7 619.7L1126.0 619.6L1127.3 619.7L1128.6 620.6L1130.0 621.1L1131.3 620.2L1132.6 622.1L1134.0 622.3L1135.3 621.7L1136.6 621.9L1138.0 622.4L1139.3 623.3L1140.6 622.9L1141.9 622.9L1143.3 623.8L1144.6 622.3L1145.9 623.0L1147.3 623.2L1148.6 622.5L1149.9 622.5L1151.3 623.0L1152.6 623.8L1153.9 624.2L1155.2 624.4L1156.6 625.3L1157.9 626.1L1159.2 627.4L1160.6 628.3L1161.9 628.4L1163.2 628.5L1164.6 629.2L1165.9 630.1L1167.2 631.6L1168.5 631.8L1169.9 632.2L1171.2 632.2L1172.5 633.3L1173.9 633.4L1175.2 633.5L1176.5 633.9L1177.9 635.0L1179.2 634.4L1180.5 635.7L1181.8 635.8L1183.2 635.1L1184.5 633.7L1185.8 631.4L1187.2 629.3L1188.5 627.7L1189.8 625.6L1191.2 624.5L1192.5 622.4L1193.8 620.8L1195.1 620.9L1196.5 619.6L1197.8 622.0L1199.1 621.7L1200.5 623.3L1201.8 623.5L1203.1 624.7L1204.5 625.8L1205.8 624.5L1207.1 625.8L1208.4 625.9L1209.8 625.3L1211.1 626.9L1212.4 626.9L1213.8 627.0L1215.1 627.3L1216.4 629.7L1217.8 628.3L1219.1 628.1L1220.4 628.9L1221.7 629.7L1223.1 630.0L1224.4 630.1L1225.7 629.5L1227.1 630.3L1228.4 629.7L1229.7 629.2L1231.1 629.4L1232.4 629.6L1233.7 630.2L1235.0 630.3L1236.4 630.2L1237.7 630.8L1239.0 631.3L1240.4 632.5L1241.7 631.6L1243.0 632.2L1244.4 632.5L1245.7 631.8L1247.0 632.5L1248.3 632.6L1249.7 632.4L1251.0 633.0L1252.3 634.8L1253.7 636.5L1255.0 637.5L1256.3 639.3L1257.7 640.1L1259.0 637.1L1260.3 636.5L1261.6 636.4L1263.0 635.8L1264.3 635.9L1265.6 635.4L1267.0 635.5L1268.3 635.6L1269.6 635.5L1271.0 636.3L1272.3 636.7L1273.6 636.1L1274.9 635.0L1276.3 633.1L1277.6 632.7L1278.9 632.4L1280.3 632.9L1281.6 633.3L1282.9 632.7L1284.3 634.5L1285.6 634.0L1286.9 634.8L1288.2 636.1L1289.6 635.0L1290.9 636.2L1292.2 636.2L1293.6 635.7L1294.9 634.5L1296.2 634.4L1297.6 633.2L1298.9 633.3L1300.2 633.2L1301.5 631.7L1302.9 632.0L1304.2 631.8L1305.5 631.2L1306.9 631.0L1308.2 631.5L1309.5 631.2L1310.9 630.4L1312.2 630.9L1313.5 631.3L1314.8 630.4L1316.2 630.4L1317.5 631.5L1318.8 630.3L1320.2 627.7L1321.5 626.8L1322.8 626.6L1324.2 625.6L1325.5 626.0L1326.8 625.9L1328.1 626.4L1329.5 624.9L1330.8 625.1L1332.1 626.1L1333.5 627.8L1334.8 627.7L1336.1 627.5L1337.5 629.1L1338.8 629.8L1340.1 629.8L1341.4 630.0L1342.8 630.5L1344.1 631.1L1345.4 630.8L1346.8 631.1L1348.1 631.0L1349.4 631.1L1350.8 631.0L1352.1 631.7L1353.4 631.7L1354.7 631.9L1356.1 632.7L1357.4 632.7L1358.7 633.6L1360.1 633.8L1361.4 636.2L1362.7 637.0L1364.1 637.8L1365.4 636.6L1366.7 636.4L1368.0 635.0L1369.4 633.0L1370.7 631.6L1372.0 631.8L1373.4 632.0L1374.7 633.5L1376.0 632.3L1377.4 632.6L1378.7 633.1L1380.0 632.4L1381.3 631.7L1382.7 631.1L1384.0 631.0L1385.3 629.4L1386.7 629.4L1388.0 628.9L1389.3 630.0L1390.7 630.4L1392.0 629.7L1393.3 630.0L1394.6 629.1L1396.0 629.4L1397.3 628.4L1398.6 627.5L1400.0 627.5L1401.3 626.9L1402.6 626.6L1404.0 627.5L1405.3 627.6L1406.6 628.0L1407.9 626.8L1409.3 626.6L1410.6 626.0L1411.9 626.9L1413.3 626.4L1414.6 625.8L1415.9 626.4L1417.3 626.2L1418.6 624.9L1419.9 626.1L1421.2 625.6L1422.6 625.3L1423.9 625.1"/>
<path stroke="#c49c94" d="M226.9 734.0L228.2 734.1L229.6 734.3L230.9 733.3L232.2 733.6L233.6 734.3L234.9 733.7L236.2 734.0L237.5 733.7L238.9 735.1L240.2 735.0L241.5 734.9L242.9 734.9L244.2 734.8L245.5 734.8L246.9 735.0L248.2 734.5L249.5 735.0L250.8 734.3L252.2 734.1L253.5 734.7L254.8 734.1L256.2 734.5L257.5 734.3L258.8 733.9L260.2 735.0L261.5 734.5L262.8 735.5L264.1 734.7L265.5 734.7L266.8 735.5L268.1 735.6L269.5 735.5L270.8 735.1L272.1 735.7L273.5 734.7L274.8 734.9L276.1 734.7L277.4 734.7L278.8 735.0L280.1 734.5L281.4 735.0L282.8 735.1L284.1 734.3L285.4 734.5L286.8 734.8L288.1 734.7L289.4 735.1L290.7 734.4L292.1 735.4L293.4 735.4L294.7 735.2L296.1 734.5L297.4 734.7L298.7 734.2L300.1 734.3L301.4 733.9L302.7 733.9L304.0 733.6L305.4 734.5L306.7 733.3L308.0 734.0L309.4 734.5L310.7 733.8L312.0 734.5L313.4 733.7L314.7 734.1L316.0 733.7L317.3 733.8L318.7 734.0L320.0 733.9L321.3 733.8L322.7 734.6L324.0 733.9L325.3 733.6L326.7 734.4L328.0 734.5L329.3 734.7L330.6 735.0L332.0 734.2L333.3 735.0L334.6 735.0L336.0 734.5L337.3 734.5L338.6 733.3L340.0 734.1L341.3 734.8L342.6 733.5L343.9 733.8L345.3 734.0L346.6 733.9L347.9 734.1L349.3 732.7L350.6 733.3L351.9 733.5L353.3 732.6L354.6 733.0L355.9 733.6L357.2 733.4L358.6 733.1L359.9 732.0L361.2 732.9L362.6 733.2L363.9 733.0L365.2 733.1L366.6 734.3L367.9 733.2L369.2 733.0L370.5 733.5L371.9 733.3L373.2 733.4L374.5 733.6L375.9 734.0L377.2 733.9L378.5 733.5L379.9 733.9L381.2 734.2L382.5 734.0L383.8 734.3L385.2 733.9L386.5 733.1L387.8 733.3L389.2 733.6L390.5 733.2L391.8 732.8L393.2 733.3L394.5 732.9L395.8 732.7L397.1 733.5L398.5 733.3L399.8 733.2L401.1 732.9L402.5 732.9L403.8 732.5L405.1 732.9L406.5 733.1L407.8 732.8L409.1 733.2L410.4 732.4L411.8 732.8L413.1 733.6L414.4 733.8L415.8 733.4L417.1 733.3L418.4 733.0L419.8 733.7L421.1 733.9L422.4 733.2L423.7 733.9L425.1 733.7L426.4 733.5L427.7 732.8L429.1 733.2L430.4 732.4L431.7 733.3L433.1 732.7L434.4 732.4L435.7 733.4L437.0 733.5L438.4 733.0L439.7 734.1L441.0 733.1L442.4 733.6L443.7 734.0L445.0 732.9L446.4 734.1L447.7 733.8L449.0 733.9L450.3 733.6L451.7 734.1L453.0 733.7L454.3 733.8L455.7 734.0L457.0 733.8L458.3 734.8L459.7 733.7L461.0 733.8L462.3 733.9L463.6 733.9L465.0 734.1L466.3 734.0L467.6 733.7L469.0 733.8L470.3 734.1L471.6 734.5L473.0 734.8L474.3 734.7L475.6 734.4L476.9 736.2L478.3 736.1L479.6 736.2L480.9 736.7L482.3 737.0L483.6 737.5L484.9 738.3L486.3 739.0L487.6 739.4L488.9 739.7L490.2 740.6L491.6 741.3L492.9 741.4L494.2 742.0L495.6 741.0L496.9 741.2L498.2 740.8L499.6 740.1L500.9 740.1L502.2 741.0L503.5 740.7L504.9 741.3L506.2 740.8L507.5 740.9L508.9 740.3L510.2 739.7L511.5 739.9L512.9 739.6L514.2 739.7L515.5 739.1L516.8 738.9L518.2 739.2L519.5 739.1L520.8 738.7L522.2 738.6L523.5 738.2L524.8 738.1L526.2 738.2L527.5 738.4L528.8 738.6L530.1 738.9L531.5 739.9L532.8 739.1L534.1 739.0L535.5 739.0L536.8 738.8L538.1 738.5L539.5 738.3L540.8 738.5L542.1 739.3L543.4 737.6L544.8 737.3L546.1 736.3L547.4 735.7L548.8 736.0L550.1 735.7L551.4 735.5L552.8 735.4L554.1 735.1L555.4 734.9L556.7 733.6L558.1 733.9L559.4 733.6L560.7 733.9L562.1 733.6L563.4 733.8L564.7 733.5L566.1 733.7L567.4 733.3L568.7 734.1L570.0 734.8L571.4 734.5L572.7 734.7L574.0 734.4L575.4 735.4L576.7 734.8L578.0 735.2L579.4 734.8L580.7 734.3L582.0 734.9L583.3 734.4L584.7 734.3L586.0 734.3L587.3 734.0L588.7 733.6L590.0 733.7L591.3 733.2L592.7 733.2L594.0 732.9L595.3 733.2L596.6 734.0L598.0 734.5L599.3 734.7L600.6 734.6L602.0 733.2L603.3 733.6L604.6 732.7L606.0 733.0L607.3 733.1L608.6 732.4L609.9 732.4L611.3 733.0L612.6 732.8L613.9 732.5L615.3 732.0L616.6 732.9L617.9 731.8L619.3 731.7L620.6 732.6L621.9 732.3L623.2 732.1L624.6 732.7L625.9 732.4L627.2 732.7L628.6 732.6L629.9 732.2L631.2 732.9L632.6 732.7L633.9 732.3L635.2 732.4L636.5 733.2L637.9 732.9L639.2 733.2L640.5 733.5L641.9 733.5L643.2 733.1L644.5 734.0L645.9 734.2L647.2 733.8L648.5 733.7L649.8 732.9L651.2 732.7L652.5 733.0L653.8 732.5L655.2 733.3L656.5 733.3L657.8 733.1L659.2 733.5L660.5 733.3L661.8 732.8L663.1 733.6L664.5 733.4L665.8 733.5L667.1 733.5L668.5 734.0L669.8 733.8L671.1 733.5L672.5 734.0L673.8 734.2L675.1 733.8L676.4 734.0L677.8 734.0L679.1 733.9L680.4 734.2L681.8 734.4L683.1 734.6L684.4 734.3L685.8 734.2L687.1 734.2L688.4 734.2L689.7 733.6L691.1 733.9L692.4 733.7L693.7 733.5L695.1 733.3L696.4 733.4L697.7 733.6L699.1 733.4L700.4 734.1L701.7 734.0L703.0 734.2L704.4 734.3L705.7 734.6L707.0 734.2L708.4 734.4L709.7 733.9L711.0 733.8L712.4 733.9L713.7 735.2L715.0 734.1L716.3 735.0L717.7 735.4L719.0 734.8L720.3 735.6L721.7 735.7L723.0 735.4L724.3 736.0L725.7 735.4L727.0 734.7L728.3 735.0L729.6 734.5L731.0 734.0L732.3 733.8L733.6 735.2L735.0 734.4L736.3 734.7L737.6 734.7L739.0 735.2L740.3 735.1L741.6 735.0L742.9 734.6L744.3 734.4L745.6 734.6L746.9 734.8L748.3 735.4L749.6 734.9L750.9 735.1L752.3 734.5L753.6 734.3L754.9 733.7L756.2 734.1L757.6 733.3L758.9 733.9L760.2 734.6L761.6 734.3L762.9 734.7L764.2 734.2L765.6 734.0L766.9 734.2L768.2 734.0L769.5 734.4L770.9 734.5L772.2 733.4L773.5 733.4L774.9 733.3L776.2 733.0L777.5 732.7L778.9 733.3L780.2 733.4L781.5 733.5L782.8 733.0L784.2 733.5L785.5 733.0L786.8 734.0L788.2 733.5L789.5 733.8L790.8 733.6L792.2 733.5L793.5 733.2L794.8 732.8L796.1 733.9L797.5 733.2L798.8 733.1L800.1 733.6L801.5 732.7L802.8 732.9L804.1 732.6L805.5 732.9L806.8 732.6L808.1 732.5L809.4 732.2L810.8 732.4L812.1 732.9L813.4 731.9L814.8 732.6L816.1 732.7L817.4 733.0L818.8 732.8L820.1 734.1L821.4 733.3L822.7 733.1L824.1 732.6L825.4 731.8L826.7 732.0L828.1 731.5L829.4 731.7L830.7 731.9L832.1 732.0L833.4 731.9L834.7 731.9L836.0 732.8L837.4 732.3L838.7 731.8L840.0 732.1L841.4 732.2L842.7 732.5L844.0 732.5L845.4 732.5L846.7 733.8L848.0 733.7L849.3 734.0L850.7 734.4L852.0 734.9L853.3 735.9L854.7 735.8L856.0 736.2L857.3 734.9L858.7 736.3L860.0 736.7L861.3 737.2L862.6 736.6L864.0 736.0L865.3 736.8L866.6 736.4L868.0 736.0L869.3 736.4L870.6 737.2L872.0 737.7L873.3 737.9L874.6 737.7L875.9 738.9L877.3 737.5L878.6 737.9L879.9 737.2L881.3 737.5L882.6 736.6L883.9 736.7L885.3 736.5L886.6 736.6L887.9 736.7L889.2 736.0L890.6 736.8L891.9 736.6L893.2 736.0L894.6 736.2L895.9 736.3L897.2 736.7L898.6 736.3L899.9 736.2L901.2 735.9L902.5 735.4L903.9 735.5L905.2 735.5L906.5 735.2L907.9 735.1L909.2 735.2L910.5 734.9L911.9 734.6L913.2 734.6L914.5 734.2L915.8 733.9L917.2 734.0L918.5 733.2L919.8 734.3L921.2 733.4L922.5 734.2L923.8 733.9L925.2 734.3L926.5 734.0L927.8 733.8L929.1 734.7L930.5 734.5L931.8 734.6L933.1 734.5L934.5 734.5L935.8 734.1L937.1 733.6L938.5 733.0L939.8 733.5L941.1 733.7L942.4 734.3L943.8 733.9L945.1 733.7L946.4 734.4L947.8 734.1L949.1 734.4L950.4 734.7L951.8 734.2L953.1 735.2L954.4 735.1L955.7 735.0L957.1 734.7L958.4 735.3L959.7 735.8L961.1 735.2L962.4 734.9L963.7 735.2L965.1 734.4L966.4 733.5L967.7 733.4L969.0 733.6L970.4 734.1L971.7 734.3L973.0 734.9L974.4 735.0L975.7 735.2L977.0 735.2L978.4 735.3L979.7 735.0L981.0 735.0L982.3 735.0L983.7 733.8L985.0 734.7L986.3 735.1L987.7 735.5L989.0 735.0L990.3 736.1L991.7 735.3L993.0 734.6L994.3 734.9L995.6 735.0L997.0 735.1L998.3 735.8L999.6 735.7L1001.0 735.0L1002.3 734.7L1003.6 734.6L1005.0 734.2L1006.3 735.0L1007.6 733.9L1008.9 734.1L1010.3 733.1L1011.6 731.8L1012.9 731.7L1014.3 731.6L1015.6 730.7L1016.9 730.2L1018.3 730.7L1019.6 731.4L1020.9 730.2L1022.2 731.1L1023.6 731.0L1024.9 731.2L1026.2 731.2L1027.6 731.4L1028.9 732.1L1030.2 732.1L1031.6 731.7L1032.9 732.8L1034.2 732.0L1035.5 732.8L1036.9 732.8L1038.2 733.3L1039.5 733.1L1040.9 733.5L1042.2 733.3L1043.5 733.7L1044.9 733.6L1046.2 734.2L1047.5 733.3L1048.8 734.0L1050.2 733.8L1051.5 733.7L1052.8 733.7L1054.2 734.3L1055.5 733.9L1056.8 734.2L1058.2 735.2L1059.5 734.7L1060.8 735.9L1062.1 735.4L1063.5 735.6L1064.8 735.7L1066.1 735.9L1067.5 735.7L1068.8 735.5L1070.1 735.1L1071.5 735.1L1072.8 734.6L1074.1 734.6L1075.4 734.1L1076.8 733.8L1078.1 733.2L1079.4 733.9L1080.8 733.9L1082.1 733.4L1083.4 733.7L1084.8 733.8L1086.1 733.4L1087.4 733.7L1088.7 733.4L1090.1 732.7L1091.4 733.0L1092.7 733.0L1094.1 733.3L1095.4 732.7L1096.7 732.8L1098.1 732.5L1099.4 732.4L1100.7 732.1L1102.0 732.1L1103.4 731.6L1104.7 731.0L1106.0 730.9L1107.4 730.8L1108.7 730.7L1110.0 731.1L1111.4 729.6L1112.7 730.4L1114.0 730.5L1115.3 730.7L1116.7 729.9L1118.0 730.3L1119.3 730.4L1120.7 729.9L1122.0 729.4L1123.3 730.0L1124.7 729.8L1126.0 730.5L1127.3 730.0L1128.6 730.9L1130.0 730.4L1131.3 730.2L1132.6 730.4L1134.0 730.3L1135.3 730.9L1136.6 731.4L1138.0 730.9L1139.3 731.3L1140.6 730.8L1141.9 731.3L1143.3 732.1L1144.6 730.7L1145.9 731.5L1147.3 731.4L1148.6 730.2L1149.9 730.3L1151.3 730.7L1152.6 731.5L1153.9 731.3L1155.2 731.5L1156.6 732.1L1157.9 732.0L1159.2 732.3L1160.6 732.3L1161.9 733.0L1163.2 732.6L1164.6 733.6L1165.9 733.1L1167.2 733.2L1168.5 733.9L1169.9 734.0L1171.2 733.3L1172.5 734.1L1173.9 733.7L1175.2 733.9L1176.5 734.6L1177.9 734.1L1179.2 734.6L1180.5 734.5L1181.8 735.4L1183.2 734.6L1184.5 733.7L1185.8 733.2L1187.2 732.7L1188.5 732.5L1189.8 731.9L1191.2 731.7L1192.5 730.9L1193.8 730.3L1195.1 730.3L1196.5 730.4L1197.8 730.8L1199.1 731.1L1200.5 731.3L1201.8 731.1L1203.1 730.9L1204.5 731.3L1205.8 731.8L1207.1 730.9L1208.4 731.7L1209.8 732.1L1211.1 731.9L1212.4 731.8L1213.8 732.9L1215.1 732.9L1216.4 732.4L1217.8 733.1L1219.1 733.2L1220.4 732.5L1221.7 734.0L1223.1 732.8L1224.4 733.0L1225.7 732.7L1227.1 733.1L1228.4 732.6L1229.7 733.0L1231.1 733.4L1232.4 733.1L1233.7 732.9L1235.0 733.6L1236.4 732.9L1237.7 733.6L1239.0 733.3L1240.4 733.6L1241.7 733.6L1243.0 733.7L1244.4 733.7L1245.7 733.5L1247.0 733.6L1248.3 734.0L1249.7 733.8L1251.0 733.5L1252.3 734.1L1253.7 734.6L1255.0 735.3L1256.3 735.9L1257.7 735.8L1259.0 735.1L1260.3 735.0L1261.6 734.3L1263.0 733.7L1264.3 734.7L1265.6 734.0L1267.0 734.2L1268.3 734.1L1269.6 734.9L1271.0 734.4L1272.3 735.1L1273.6 734.7L1274.9 734.1L1276.3 733.6L1277.6 733.9L1278.9 733.6L1280.3 733.9L1281.6 734.4L1282.9 734.0L1284.3 734.2L1285.6 734.2L1286.9 734.5L1288.2 734.4L1289.6 734.3L1290.9 735.4L1292.2 734.1L1293.6 734.8L1294.9 734.6L1296.2 734.3L1297.6 733.6L1298.9 733.7L1300.2 733.6L1301.5 733.3L1302.9 733.6L1304.2 733.4L1305.5 733.3L1306.9 733.7L1308.2 733.0L1309.5 733.5L1310.9 733.1L1312.2 733.4L1313.5 733.3L1314.8 733.3L1316.2 732.8L1317.5 732.9L1318.8 732.5L1320.2 732.5L1321.5 732.4L1322.8 732.2L1324.2 731.5L1325.5 731.7L1326.8 731.2L1328.1 730.9L1329.5 731.4L1330.8 731.5L1332.1 731.3L1333.5 731.4L1334.8 732.4L1336.1 732.1L1337.5 731.9L1338.8 733.5L1340.1 732.9L1341.4 732.8L1342.8 733.2L1344.1 732.7L1345.4 733.6L1346.8 732.6L1348.1 732.7L1349.4 733.2L1350.8 733.0L1352.1 733.8L1353.4 732.8L1354.7 733.2L1356.1 733.6L1357.4 733.8L1358.7 734.2L1360.1 734.3L1361.4 735.4L1362.7 734.9L1364.1 735.4L1365.4 735.2L1366.7 734.5L1368.0 734.1L1369.4 733.7L1370.7 733.3L1372.0 733.0L1373.4 733.3L1374.7 733.1L1376.0 733.9L1377.4 733.3L1378.7 734.5L1380.0 734.1L1381.3 733.7L1382.7 732.9L1384.0 732.6L1385.3 733.1L1386.7 732.7L1388.0 732.9L1389.3 732.5L1390.7 733.1L1392.0 732.4L1393.3 732.6L1394.6 731.9L1396.0 732.1L1397.3 732.4L1398.6 732.0L1400.0 731.9L1401.3 732.3L1402.6 732.0L1404.0 732.4L1405.3 731.0L1406.6 732.0L1407.9 732.0L1409.3 731.2L1410.6 731.2L1411.9 731.9L1413.3 731.2L1414.6 731.3L1415.9 731.7L1417.3 731.4L1418.6 731.6L1419.9 731.1L1421.2 731.5L1422.6 731.7L1423.9 731.4"/>
<path stroke="#e377c2" d="M226.9 754.4L1424.0 755.5"/>
<path stroke="#f7b6d2" d="M226.9 771.7L1424.0 772.6"/>
<path stroke="#7f7f7f" d="M226.9 771.0L1424.0 773.0"/>
<path stroke="#c7c7c7" d="M226.9 41.1L228.2 42.7L229.6 42.6L230.9 42.5L232.2 44.8L233.6 44.4L234.9 47.2L236.2 46.7L237.5 48.5L238.9 48.3L240.2 48.7L241.5 50.8L242.9 51.9L244.2 50.7L245.5 51.9L246.9 52.2L248.2 53.2L249.5 53.5L250.8 53.3L252.2 52.5L253.5 50.8L254.8 49.9L256.2 49.6L257.5 48.6L258.8 48.0L260.2 50.9L261.5 51.4L262.8 54.2L264.1 53.9L265.5 53.3L266.8 54.1L268.1 54.3L269.5 55.7L270.8 56.6L272.1 55.0L273.5 54.7L274.8 53.8L276.1 52.1L277.4 51.3L278.8 52.3L280.1 51.0L281.4 51.2L282.8 51.4L284.1 51.9L285.4 52.0L286.8 53.1L288.1 53.6L289.4 53.0L290.7 52.7L292.1 54.1L293.4 54.4L294.7 55.8L296.1 56.6L297.4 55.3L298.7 52.5L300.1 49.7L301.4 48.0L302.7 43.9L304.0 45.9L305.4 48.5L306.7 49.5L308.0 49.4L309.4 48.5L310.7 48.9L312.0 47.9L313.4 47.8L314.7 48.5L316.0 48.2L317.3 47.7L318.7 49.8L320.0 49.8L321.3 50.5L322.7 48.3L324.0 48.8L325.3 48.9L326.7 50.3L328.0 51.1L329.3 53.3L330.6 54.2L332.0 54.3L333.3 52.6L334.6 52.1L336.0 53.0L337.3 54.2L338.6 52.0L340.0 52.6L341.3 54.3L342.6 55.4L343.9 53.1L345.3 51.8L346.6 49.2L347.9 48.2L349.3 48.2L350.6 48.3L351.9 47.2L353.3 46.9L354.6 46.8L355.9 46.7L357.2 45.9L358.6 45.2L359.9 46.5L361.2 47.5L362.6 47.3L363.9 47.5L365.2 48.7L366.6 49.0L367.9 49.6L369.2 49.5L370.5 49.6L371.9 50.2L373.2 50.4L374.5 50.9L375.9 51.6L377.2 52.7L378.5 54.6L379.9 54.6L381.2 56.0L382.5 55.7L383.8 56.7L385.2 54.1L386.5 51.5L387.8 49.8L389.2 47.1L390.5 45.8L391.8 46.5L393.2 45.9L394.5 46.9L395.8 48.0L397.1 49.1L398.5 50.1L399.8 48.6L401.1 48.1L402.5 46.5L403.8 47.6L405.1 48.6L406.5 48.6L407.8 48.8L409.1 50.0L410.4 50.6L411.8 50.2L413.1 51.2L414.4 52.3L415.8 51.9L417.1 52.8L418.4 53.0L419.8 54.7L421.1 54.8L422.4 54.7L423.7 52.3L425.1 51.3L426.4 50.1L427.7 48.4L429.1 48.1L430.4 48.3L431.7 46.9L433.1 46.9L434.4 46.5L435.7 47.6L437.0 49.4L438.4 51.8L439.7 52.4L441.0 52.9L442.4 53.7L443.7 54.2L445.0 53.9L446.4 54.3L447.7 55.1L449.0 55.7L450.3 57.2L451.7 57.4L453.0 59.3L454.3 59.8L455.7 60.1L457.0 61.0L458.3 61.9L459.7 62.1L461.0 60.0L462.3 60.2L463.6 59.1L465.0 57.3L466.3 56.6L467.6 56.6L469.0 56.0L470.3 56.5L471.6 58.5L473.0 60.6L474.3 64.6L475.6 65.3L476.9 66.5L478.3 67.7L479.6 69.6L480.9 70.8L482.3 73.0L483.6 78.8L484.9 86.0L486.3 92.3L487.6 94.4L488.9 97.7L490.2 99.4L491.6 101.7L492.9 103.7L494.2 105.8L495.6 104.1L496.9 101.9L498.2 100.3L499.6 98.4L500.9 100.3L502.2 100.2L503.5 101.5L504.9 100.9L506.2 100.5L507.5 97.5L508.9 96.8L510.2 95.4L511.5 92.7L512.9 91.1L514.2 87.7L515.5 88.3L516.8 89.5L518.2 88.6L519.5 85.0L520.8 81.6L522.2 82.2L523.5 81.7L524.8 81.0L526.2 82.4L527.5 84.6L528.8 87.8L530.1 90.5L531.5 89.5L532.8 90.4L534.1 90.3L535.5 90.5L536.8 86.3L538.1 84.6L539.5 86.7L540.8 90.2L542.1 91.1L543.4 84.0L544.8 78.0L546.1 71.0L547.4 64.0L548.8 65.6L550.1 66.4L551.4 68.3L552.8 70.8L554.1 67.8L555.4 62.8L556.7 59.8L558.1 58.6L559.4 56.5L560.7 58.0L562.1 58.2L563.4 58.6L564.7 59.7L566.1 59.8L567.4 61.2L568.7 62.5L570.0 63.0L571.4 63.1L572.7 64.7L574.0 66.9L575.4 67.6L576.7 68.5L578.0 67.5L579.4 66.4L580.7 65.1L582.0 64.2L583.3 62.4L584.7 61.6L586.0 62.2L587.3 63.0L588.7 61.3L590.0 60.1L591.3 57.6L592.7 56.9L594.0 58.2L595.3 59.9L596.6 62.6L598.0 67.4L599.3 68.3L600.6 64.5L602.0 62.0L603.3 61.1L604.6 61.1L606.0 61.5L607.3 62.0L608.6 60.9L609.9 60.7L611.3 59.0L612.6 54.9L613.9 53.5L615.3 51.8L616.6 50.8L617.9 50.3L619.3 51.1L620.6 52.1L621.9 53.0L623.2 54.0L624.6 55.2L625.9 56.1L627.2 56.1L628.6 56.3L629.9 56.0L631.2 56.2L632.6 55.3L633.9 56.7L635.2 58.0L636.5 58.1L637.9 58.2L639.2 60.6L640.5 61.0L641.9 60.8L643.2 63.4L644.5 64.9L645.9 64.6L647.2 64.4L648.5 62.7L649.8 59.4L651.2 55.3L652.5 55.6L653.8 56.4L655.2 56.9L656.5 56.2L657.8 57.0L659.2 58.4L660.5 58.0L661.8 58.9L663.1 60.6L664.5 61.1L665.8 60.9L667.1 60.2L668.5 61.4L669.8 60.9L671.1 62.4L672.5 63.6L673.8 65.3L675.1 67.0L676.4 67.1L677.8 67.6L679.1 67.7L680.4 67.4L681.8 68.2L683.1 67.5L684.4 68.6L685.8 66.8L687.1 64.4L688.4 63.1L689.7 61.5L691.1 61.7L692.4 62.3L693.7 63.1L695.1 62.6L696.4 63.1L697.7 62.7L699.1 64.8L700.4 66.6L701.7 67.8L703.0 67.9L704.4 67.7L705.7 67.7L707.0 68.4L708.4 68.0L709.7 68.4L711.0 69.6L712.4 68.9L713.7 70.4L715.0 68.9L716.3 70.0L717.7 69.8L719.0 71.1L720.3 71.0L721.7 72.4L723.0 73.3L724.3 74.3L725.7 75.0L727.0 74.2L728.3 71.8L729.6 71.2L731.0 69.5L732.3 68.7L733.6 70.0L735.0 67.9L736.3 70.2L737.6 71.2L739.0 73.5L740.3 74.3L741.6 75.7L742.9 73.3L744.3 73.6L745.6 73.5L746.9 72.9L748.3 73.6L749.6 73.6L750.9 71.7L752.3 70.7L753.6 70.6L754.9 69.4L756.2 69.6L757.6 70.0L758.9 70.7L760.2 70.6L761.6 71.6L762.9 72.4L764.2 73.0L765.6 74.1L766.9 73.3L768.2 72.6L769.5 71.0L770.9 70.4L772.2 69.9L773.5 67.2L774.9 66.5L776.2 65.5L777.5 66.3L778.9 67.9L780.2 68.2L781.5 67.8L782.8 67.4L784.2 67.9L785.5 70.4L786.8 69.3L788.2 71.6L789.5 71.1L790.8 70.8L792.2 69.3L793.5 67.5L794.8 69.4L796.1 68.3L797.5 68.8L798.8 68.3L800.1 68.3L801.5 67.0L802.8 66.2L804.1 64.6L805.5 62.8L806.8 63.0L808.1 62.2L809.4 62.1L810.8 61.9L812.1 63.0L813.4 63.3L814.8 64.4L816.1 66.3L817.4 68.7L818.8 70.8L820.1 72.6L821.4 69.7L822.7 68.5L824.1 66.4L825.4 65.0L826.7 61.5L828.1 63.8L829.4 63.1L830.7 62.9L832.1 63.9L833.4 65.3L834.7 64.9L836.0 64.5L837.4 65.4L838.7 67.3L840.0 67.0L841.4 68.6L842.7 69.4L844.0 71.5L845.4 71.1L846.7 73.3L848.0 75.2L849.3 77.9L850.7 81.9L852.0 84.7L853.3 84.4L854.7 86.5L856.0 87.4L857.3 87.8L858.7 89.1L860.0 90.1L861.3 88.7L862.6 87.5L864.0 87.7L865.3 89.6L866.6 89.7L868.0 90.4L869.3 89.6L870.6 93.8L872.0 97.7L873.3 98.1L874.6 100.0L875.9 100.8L877.3 99.6L878.6 97.4L879.9 97.1L881.3 93.0L882.6 89.3L883.9 89.0L885.3 89.8L886.6 91.1L887.9 91.5L889.2 93.4L890.6 92.2L891.9 91.2L893.2 90.5L894.6 91.8L895.9 91.3L897.2 92.8L898.6 92.2L899.9 91.4L901.2 91.2L902.5 90.3L903.9 88.3L905.2 87.5L906.5 87.2L907.9 85.2L909.2 83.7L910.5 81.7L911.9 80.9L913.2 80.5L914.5 79.1L915.8 78.0L917.2 78.2L918.5 80.3L919.8 81.0L921.2 82.0L922.5 81.0L923.8 79.5L925.2 79.1L926.5 79.1L927.8 80.3L929.1 81.2L930.5 81.1L931.8 82.0L933.1 84.0L934.5 82.1L935.8 80.6L937.1 78.9L938.5 80.5L939.8 80.3L941.1 82.6L942.4 82.8L943.8 82.9L945.1 81.5L946.4 79.3L947.8 83.2L949.1 85.9L950.4 86.7L951.8 87.0L953.1 86.6L954.4 87.3L955.7 89.1L957.1 90.1L958.4 90.3L959.7 90.8L961.1 92.5L962.4 91.4L963.7 90.6L965.1 88.6L966.4 80.0L967.7 82.9L969.0 85.4L970.4 85.1L971.7 82.9L973.0 84.0L974.4 85.8L975.7 88.4L977.0 88.3L978.4 87.1L979.7 85.1L981.0 85.1L982.3 87.0L983.7 88.5L985.0 89.2L986.3 86.5L987.7 86.8L989.0 89.3L990.3 91.1L991.7 88.2L993.0 86.5L994.3 86.7L995.6 88.3L997.0 89.5L998.3 90.2L999.6 91.7L1001.0 89.7L1002.3 86.6L1003.6 85.1L1005.0 85.6L1006.3 85.5L1007.6 84.3L1008.9 80.9L1010.3 75.8L1011.6 72.7L1012.9 68.7L1014.3 66.3L1015.6 63.1L1016.9 62.2L1018.3 63.5L1019.6 63.3L1020.9 63.9L1022.2 65.0L1023.6 65.7L1024.9 67.8L1026.2 67.9L1027.6 69.2L1028.9 69.6L1030.2 71.2L1031.6 72.5L1032.9 73.6L1034.2 74.4L1035.5 75.0L1036.9 75.9L1038.2 75.3L1039.5 76.1L1040.9 77.4L1042.2 80.1L1043.5 81.0L1044.9 81.1L1046.2 81.7L1047.5 81.6L1048.8 81.0L1050.2 80.0L1051.5 78.9L1052.8 79.8L1054.2 81.7L1055.5 84.2L1056.8 86.5L1058.2 88.0L1059.5 90.6L1060.8 90.1L1062.1 88.1L1063.5 88.3L1064.8 89.2L1066.1 92.1L1067.5 92.9L1068.8 91.5L1070.1 88.6L1071.5 87.0L1072.8 84.7L1074.1 83.5L1075.4 83.4L1076.8 82.8L1078.1 83.4L1079.4 81.8L1080.8 81.5L1082.1 82.0L1083.4 82.2L1084.8 82.2L1086.1 82.5L1087.4 81.3L1088.7 81.6L1090.1 81.9L1091.4 82.4L1092.7 82.2L1094.1 81.6L1095.4 81.2L1096.7 82.0L1098.1 81.1L1099.4 79.5L1100.7 75.7L1102.0 74.2L1103.4 70.5L1104.7 68.5L1106.0 67.7L1107.4 68.0L1108.7 68.0L1110.0 68.4L1111.4 68.5L1112.7 67.7L1114.0 67.6L1115.3 66.7L1116.7 66.3L1118.0 66.6L1119.3 65.6L1120.7 65.4L1122.0 66.1L1123.3 67.0L1124.7 67.7L1126.0 66.9L1127.3 67.7L1128.6 67.8L1130.0 68.2L1131.3 68.2L1132.6 68.4L1134.0 69.6L1135.3 70.1L1136.6 70.7L1138.0 70.4L1139.3 70.5L1140.6 72.2L1141.9 71.9L1143.3 73.5L1144.6 74.2L1145.9 71.9L1147.3 70.6L1148.6 68.2L1149.9 68.2L1151.3 68.1L1152.6 68.7L1153.9 71.0L1155.2 71.9L1156.6 73.6L1157.9 74.3L1159.2 75.6L1160.6 76.5L1161.9 76.8L1163.2 77.6L1164.6 79.6L1165.9 80.4L1167.2 81.7L1168.5 84.0L1169.9 86.3L1171.2 87.7L1172.5 86.1L1173.9 86.6L1175.2 87.1L1176.5 86.1L1177.9 87.7L1179.2 86.6L1180.5 89.4L1181.8 89.6L1183.2 89.0L1184.5 88.4L1185.8 86.6L1187.2 83.6L1188.5 79.0L1189.8 73.7L1191.2 70.1L1192.5 68.1L1193.8 66.2L1195.1 66.4L1196.5 66.8L1197.8 67.9L1199.1 69.1L1200.5 69.7L1201.8 72.7L1203.1 75.4L1204.5 74.9L1205.8 75.2L1207.1 74.8L1208.4 74.9L1209.8 76.0L1211.1 76.1L1212.4 77.0L1213.8 78.3L1215.1 79.7L1216.4 80.7L1217.8 82.4L1219.1 84.4L1220.4 84.2L1221.7 84.2L1223.1 84.5L1224.4 83.5L1225.7 84.6L1227.1 84.7L1228.4 86.0L1229.7 85.9L1231.1 83.9L1232.4 84.0L1233.7 81.7L1235.0 81.8L1236.4 82.4L1237.7 83.0L1239.0 84.0L1240.4 85.5L1241.7 85.7L1243.0 85.2L1244.4 85.6L1245.7 84.4L1247.0 85.3L1248.3 86.0L1249.7 85.7L1251.0 87.4L1252.3 88.3L1253.7 92.5L1255.0 98.0L1256.3 99.5L1257.7 101.5L1259.0 98.3L1260.3 96.7L1261.6 95.8L1263.0 95.2L1264.3 95.0L1265.6 94.1L1267.0 93.3L1268.3 94.8L1269.6 96.1L1271.0 97.0L1272.3 97.9L1273.6 96.2L1274.9 94.2L1276.3 91.0L1277.6 87.1L1278.9 89.2L1280.3 90.8L1281.6 91.7L1282.9 93.5L1284.3 94.8L1285.6 94.9L1286.9 96.2L1288.2 97.4L1289.6 98.4L1290.9 99.4L1292.2 97.9L1293.6 97.8L1294.9 97.2L1296.2 96.4L1297.6 95.6L1298.9 93.8L1300.2 94.6L1301.5 94.8L1302.9 96.2L1304.2 95.5L1305.5 95.3L1306.9 93.8L1308.2 92.4L1309.5 91.2L1310.9 92.0L1312.2 92.7L1313.5 91.7L1314.8 92.3L1316.2 92.4L1317.5 90.9L1318.8 88.0L1320.2 85.3L1321.5 82.8L1322.8 82.5L1324.2 82.0L1325.5 82.0L1326.8 81.7L1328.1 82.6L1329.5 81.6L1330.8 83.5L1332.1 83.6L1333.5 85.8L1334.8 86.8L1336.1 88.8L1337.5 89.7L1338.8 89.1L1340.1 89.8L1341.4 90.1L1342.8 90.6L1344.1 90.4L1345.4 91.8L1346.8 92.5L1348.1 93.0L1349.4 94.0L1350.8 94.0L1352.1 95.4L1353.4 94.8L1354.7 95.4L1356.1 94.0L1357.4 95.6L1358.7 98.5L1360.1 99.6L1361.4 102.6L1362.7 104.0L1364.1 105.4L1365.4 104.7L1366.7 103.7L1368.0 102.5L1369.4 97.7L1370.7 92.6L1372.0 91.9L1373.4 91.6L1374.7 93.2L1376.0 93.4L1377.4 94.5L1378.7 95.5L1380.0 93.6L1381.3 92.5L1382.7 91.5L1384.0 90.7L1385.3 91.0L1386.7 89.7L1388.0 89.7L1389.3 91.4L1390.7 91.6L1392.0 93.6L1393.3 94.0L1394.6 92.7L1396.0 91.7L1397.3 90.8L1398.6 89.9L1400.0 89.4L1401.3 90.2L1402.6 91.2L1404.0 91.5L1405.3 91.2L1406.6 91.0L1407.9 91.4L1409.3 89.9L1410.6 90.4L1411.9 90.2L1413.3 89.3L1414.6 88.9L1415.9 89.0L1417.3 87.5L1418.6 87.4L1419.9 87.7L1421.2 88.4L1422.6 88.0L1423.9 89.6"/>
<path stroke="#bcbd22" d="M226.9 782.2L1424.0 784.2"/>
<path stroke="#dbdb8d" d="M226.9 769.4L1424.0 771.0"/>
<path stroke="#17becf" d="M226.9 736.9L228.2 737.0L229.6 737.1L230.9 737.0L232.2 737.0L233.6 737.9L234.9 737.6L236.2 737.6L237.5 738.1L238.9 737.7L240.2 738.2L241.5 738.1L242.9 737.9L244.2 738.6L245.5 737.8L246.9 738.4L248.2 737.8L249.5 738.2L250.8 738.4L252.2 738.1L253.5 737.6L254.8 737.7L256.2 737.7L257.5 737.6L258.8 737.7L260.2 738.3L261.5 738.6L262.8 737.9L264.1 738.6L265.5 738.9L266.8 738.8L268.1 738.4L269.5 739.2L270.8 738.4L272.1 739.0L273.5 739.2L274.8 737.8L276.1 738.5L277.4 738.4L278.8 738.3L280.1 738.0L281.4 738.2L282.8 737.8L284.1 738.4L285.4 738.5L286.8 738.2L288.1 738.1L289.4 738.3L290.7 738.5L292.1 738.6L293.4 738.6L294.7 738.7L296.1 738.0L297.4 737.3L298.7 738.2L300.1 738.3L301.4 737.1L302.7 737.1L304.0 737.6L305.4 738.0L306.7 738.0L308.0 738.4L309.4 738.0L310.7 738.1L312.0 738.0L313.4 737.7L314.7 738.2L316.0 737.9L317.3 738.0L318.7 737.5L320.0 738.0L321.3 737.3L322.7 737.7L324.0 736.7L325.3 737.3L326.7 738.0L328.0 737.7L329.3 738.0L330.6 737.5L332.0 738.7L333.3 738.5L334.6 738.2L336.0 738.3L337.3 738.2L338.6 738.6L340.0 738.1L341.3 737.4L342.6 737.8L343.9 738.2L345.3 737.9L346.6 737.4L347.9 737.6L349.3 737.3L350.6 737.4L351.9 736.6L353.3 736.8L354.6 737.2L355.9 736.9L357.2 737.0L358.6 737.6L359.9 736.8L361.2 737.1L362.6 736.8L363.9 736.9L365.2 737.1L366.6 736.7L367.9 736.5L369.2 737.7L370.5 737.3L371.9 737.8L373.2 737.5L374.5 737.6L375.9 737.9L377.2 737.9L378.5 737.4L379.9 738.3L381.2 737.6L382.5 738.1L383.8 738.7L385.2 737.6L386.5 738.0L387.8 737.1L389.2 737.2L390.5 736.8L391.8 737.1L393.2 736.7L394.5 736.8L395.8 737.4L397.1 736.8L398.5 737.0L399.8 737.4L401.1 736.8L402.5 736.6L403.8 736.4L405.1 736.9L406.5 736.8L407.8 737.0L409.1 737.0L410.4 737.7L411.8 737.0L413.1 736.6L414.4 737.3L415.8 737.4L417.1 737.5L418.4 737.0L419.8 738.0L421.1 737.7L422.4 737.7L423.7 737.2L425.1 737.7L426.4 737.4L427.7 737.8L429.1 737.1L430.4 736.7L431.7 737.0L433.1 736.6L434.4 737.2L435.7 736.8L437.0 737.2L438.4 737.3L439.7 737.5L441.0 737.4L442.4 737.3L443.7 737.7L445.0 737.6L446.4 737.9L447.7 737.8L449.0 737.2L450.3 738.0L451.7 738.6L453.0 738.2L454.3 738.4L455.7 738.4L457.0 738.1L458.3 737.8L459.7 738.5L461.0 738.5L462.3 738.3L463.6 738.2L465.0 738.1L466.3 737.9L467.6 738.0L469.0 738.1L470.3 738.3L471.6 738.0L473.0 738.3L474.3 739.0L475.6 739.0L476.9 738.5L478.3 739.7L479.6 739.1L480.9 741.0L482.3 741.1L483.6 741.6L484.9 741.6L486.3 742.0L487.6 742.8L488.9 743.4L490.2 743.5L491.6 744.2L492.9 744.7L494.2 745.0L495.6 744.3L496.9 743.5L498.2 743.9L499.6 743.4L500.9 743.9L502.2 744.5L503.5 744.6L504.9 744.3L506.2 744.4L507.5 744.3L508.9 743.6L510.2 743.5L511.5 743.5L512.9 743.0L514.2 742.7L515.5 742.4L516.8 742.5L518.2 742.1L519.5 742.4L520.8 741.9L522.2 742.3L523.5 742.0L524.8 741.1L526.2 741.9L527.5 741.7L528.8 742.5L530.1 742.5L531.5 742.5L532.8 742.8L534.1 742.4L535.5 742.7L536.8 742.5L538.1 741.9L539.5 742.3L540.8 742.3L542.1 742.8L543.4 741.4L544.8 741.2L546.1 740.3L547.4 739.6L548.8 739.3L550.1 740.6L551.4 739.6L552.8 739.9L554.1 739.3L555.4 739.6L556.7 738.5L558.1 738.6L559.4 737.7L560.7 738.2L562.1 738.0L563.4 738.5L564.7 738.1L566.1 738.0L567.4 738.5L568.7 738.1L570.0 738.3L571.4 739.0L572.7 738.3L574.0 739.3L575.4 739.0L576.7 739.0L578.0 739.3L579.4 739.3L580.7 738.8L582.0 738.8L583.3 739.0L584.7 738.9L586.0 738.5L587.3 738.2L588.7 737.9L590.0 737.9L591.3 738.2L592.7 738.0L594.0 737.9L595.3 738.7L596.6 738.5L598.0 738.9L599.3 738.9L600.6 739.3L602.0 737.6L603.3 738.2L604.6 738.2L606.0 738.0L607.3 738.6L608.6 738.2L609.9 738.0L611.3 737.3L612.6 737.6L613.9 737.2L615.3 737.1L616.6 737.0L617.9 736.6L619.3 737.0L620.6 737.4L621.9 737.3L623.2 737.1L624.6 736.5L625.9 737.5L627.2 737.6L628.6 737.2L629.9 737.2L631.2 737.6L632.6 737.1L633.9 737.7L635.2 737.1L636.5 737.3L637.9 737.8L639.2 737.4L640.5 738.0L641.9 738.3L643.2 737.8L644.5 738.7L645.9 738.3L647.2 738.4L648.5 738.0L649.8 737.5L651.2 737.1L652.5 736.8L653.8 737.2L655.2 737.3L656.5 738.1L657.8 738.0L659.2 737.3L660.5 738.1L661.8 737.9L663.1 737.8L664.5 738.2L665.8 738.4L667.1 738.0L668.5 738.2L669.8 738.4L671.1 738.1L672.5 738.6L673.8 738.6L675.1 738.5L676.4 738.5L677.8 738.9L679.1 739.1L680.4 738.9L681.8 738.4L683.1 738.9L684.4 738.7L685.8 738.8L687.1 738.9L688.4 738.2L689.7 738.4L691.1 738.2L692.4 738.1L693.7 739.0L695.1 738.6L696.4 737.8L697.7 738.6L699.1 738.4L700.4 739.0L701.7 738.8L703.0 738.8L704.4 739.0L705.7 739.1L707.0 739.1L708.4 739.1L709.7 739.1L711.0 739.4L712.4 738.9L713.7 739.3L715.0 739.4L716.3 739.3L717.7 739.8L719.0 739.1L720.3 739.5L721.7 739.4L723.0 739.9L724.3 739.7L725.7 739.8L727.0 739.8L728.3 739.0L729.6 739.5L731.0 739.0L732.3 739.0L733.6 739.1L735.0 739.6L736.3 739.7L737.6 740.2L739.0 739.8L740.3 739.7L741.6 739.6L742.9 739.9L744.3 740.2L745.6 739.7L746.9 739.3L748.3 739.5L749.6 739.4L750.9 739.3L752.3 739.0L753.6 738.3L754.9 738.9L756.2 739.3L757.6 739.0L758.9 738.2L760.2 739.0L761.6 738.5L762.9 739.8L764.2 739.3L765.6 738.9L766.9 739.5L768.2 738.8L769.5 739.1L770.9 738.8L772.2 738.3L773.5 738.7L774.9 737.9L776.2 738.7L777.5 738.3L778.9 738.0L780.2 737.8L781.5 738.9L782.8 738.9L784.2 738.1L785.5 739.2L786.8 738.8L788.2 738.8L789.5 738.9L790.8 738.7L792.2 739.2L793.5 738.7L794.8 737.9L796.1 739.1L797.5 738.6L798.8 737.8L800.1 738.0L801.5 737.7L802.8 737.9L804.1 738.0L805.5 737.9L806.8 737.5L808.1 737.4L809.4 737.9L810.8 737.6L812.1 738.5L813.4 737.6L814.8 738.2L816.1 738.1L817.4 738.1L818.8 739.1L820.1 739.0L821.4 738.4L822.7 738.3L824.1 738.4L825.4 737.4L826.7 738.0L828.1 737.8L829.4 737.4L830.7 737.9L832.1 738.0L833.4 737.5L834.7 737.4L836.0 738.1L837.4 738.0L838.7 737.3L840.0 737.7L841.4 737.8L842.7 737.8L844.0 737.5L845.4 738.4L846.7 738.5L848.0 738.9L849.3 739.7L850.7 739.4L852.0 739.9L853.3 740.4L854.7 740.4L856.0 740.6L857.3 741.1L858.7 741.0L860.0 741.6L861.3 741.0L862.6 741.4L864.0 740.9L865.3 741.3L866.6 741.1L868.0 741.8L869.3 741.6L870.6 741.7L872.0 742.5L873.3 742.7L874.6 742.8L875.9 742.3L877.3 742.0L878.6 742.5L879.9 742.2L881.3 741.6L882.6 741.1L883.9 740.7L885.3 741.8L886.6 741.0L887.9 741.3L889.2 741.6L890.6 740.8L891.9 741.5L893.2 741.4L894.6 741.0L895.9 740.7L897.2 740.9L898.6 740.5L899.9 741.5L901.2 741.0L902.5 740.6L903.9 740.4L905.2 740.7L906.5 740.9L907.9 739.8L909.2 739.9L910.5 739.3L911.9 740.0L913.2 739.6L914.5 740.2L915.8 739.2L917.2 739.0L918.5 738.9L919.8 739.5L921.2 738.7L922.5 739.5L923.8 739.4L925.2 739.1L926.5 739.1L927.8 739.8L929.1 740.2L930.5 739.5L931.8 740.0L933.1 740.3L934.5 739.3L935.8 739.1L937.1 738.6L938.5 739.0L939.8 739.0L941.1 738.9L942.4 738.9L943.8 738.6L945.1 738.7L946.4 739.0L947.8 739.8L949.1 739.6L950.4 739.6L951.8 740.3L953.1 740.3L954.4 740.0L955.7 740.1L957.1 740.6L958.4 740.6L959.7 740.3L961.1 740.7L962.4 740.5L963.7 740.7L965.1 739.9L966.4 740.0L967.7 739.2L969.0 739.0L970.4 739.9L971.7 740.1L973.0 739.7L974.4 741.0L975.7 740.3L977.0 740.3L978.4 740.2L979.7 740.3L981.0 740.2L982.3 740.1L983.7 740.7L985.0 740.5L986.3 741.0L987.7 741.6L989.0 740.9L990.3 739.9L991.7 740.3L993.0 739.8L994.3 740.3L995.6 740.5L997.0 740.3L998.3 740.5L999.6 741.0L1001.0 740.7L1002.3 739.4L1003.6 740.4L1005.0 740.1L1006.3 740.0L1007.6 739.9L1008.9 738.8L1010.3 738.5L1011.6 738.4L1012.9 738.0L1014.3 737.4L1015.6 736.7L1016.9 736.5L1018.3 737.2L1019.6 737.0L1020.9 736.7L1022.2 736.2L1023.6 736.8L1024.9 736.6L1026.2 737.8L1027.6 737.6L1028.9 737.4L1030.2 737.8L1031.6 738.9L1032.9 738.6L1034.2 737.9L1035.5 738.4L1036.9 738.2L1038.2 738.1L1039.5 738.9L1040.9 739.7L1042.2 739.6L1043.5 739.2L1044.9 739.1L1046.2 739.3L1047.5 739.6L1048.8 738.8L1050.2 738.7L1051.5 740.0L1052.8 739.7L1054.2 740.4L1055.5 740.1L1056.8 740.8L1058.2 740.3L1059.5 740.9L1060.8 741.4L1062.1 741.3L1063.5 740.8L1064.8 741.4L1066.1 740.9L1067.5 740.7L1068.8 741.2L1070.1 741.1L1071.5 740.6L1072.8 739.5L1074.1 740.1L1075.4 740.0L1076.8 739.5L1078.1 738.7L1079.4 739.9L1080.8 739.7L1082.1 739.5L1083.4 738.7L1084.8 738.7L1086.1 739.6L1087.4 739.5L1088.7 739.3L1090.1 739.1L1091.4 739.2L1092.7 738.9L1094.1 738.9L1095.4 738.7L1096.7 739.0L1098.1 738.7L1099.4 738.8L1100.7 738.4L1102.0 737.6L1103.4 738.2L1104.7 736.9L1106.0 737.3L1107.4 737.4L1108.7 737.5L1110.0 736.2L1111.4 737.3L1112.7 737.3L1114.0 737.3L1115.3 736.0L1116.7 736.5L1118.0 736.6L1119.3 736.4L1120.7 737.0L1122.0 736.4L1123.3 737.1L1124.7 736.9L1126.0 736.2L1127.3 736.4L1128.6 736.6L1130.0 736.9L1131.3 737.3L1132.6 736.9L1134.0 737.4L1135.3 736.6L1136.6 736.2L1138.0 737.2L1139.3 737.6L1140.6 737.4L1141.9 737.2L1143.3 737.8L1144.6 738.2L1145.9 737.4L1147.3 737.1L1148.6 737.0L1149.9 738.0L1151.3 737.4L1152.6 737.8L1153.9 738.2L1155.2 738.3L1156.6 737.8L1157.9 738.6L1159.2 738.8L1160.6 738.8L1161.9 739.2L1163.2 738.8L1164.6 739.1L1165.9 739.2L1167.2 739.8L1168.5 739.5L1169.9 740.0L1171.2 739.6L1172.5 740.0L1173.9 740.0L1175.2 740.1L1176.5 740.3L1177.9 740.3L1179.2 740.4L1180.5 739.8L1181.8 741.0L1183.2 740.4L1184.5 740.0L1185.8 739.4L1187.2 739.6L1188.5 738.5L1189.8 738.5L1191.2 738.3L1192.5 738.0L1193.8 737.3L1195.1 737.1L1196.5 736.7L1197.8 737.7L1199.1 737.8L1200.5 737.9L1201.8 738.1L1203.1 738.0L1204.5 737.9L1205.8 738.5L1207.1 738.7L1208.4 738.0L1209.8 738.7L1211.1 738.6L1212.4 738.9L1213.8 738.7L1215.1 739.1L1216.4 739.2L1217.8 739.3L1219.1 738.6L1220.4 739.5L1221.7 739.3L1223.1 739.0L1224.4 739.6L1225.7 738.9L1227.1 739.7L1228.4 739.9L1229.7 739.2L1231.1 739.7L1232.4 739.5L1233.7 739.5L1235.0 738.9L1236.4 739.7L1237.7 739.6L1239.0 739.9L1240.4 739.8L1241.7 740.2L1243.0 740.0L1244.4 740.2L1245.7 740.4L1247.0 740.1L1248.3 740.4L1249.7 740.1L1251.0 740.3L1252.3 740.3L1253.7 741.2L1255.0 741.7L1256.3 741.7L1257.7 742.0L1259.0 741.5L1260.3 740.7L1261.6 741.0L1263.0 741.3L1264.3 740.7L1265.6 740.2L1267.0 740.8L1268.3 740.5L1269.6 741.5L1271.0 741.0L1272.3 741.1L1273.6 740.8L1274.9 740.8L1276.3 740.2L1277.6 739.7L1278.9 739.8L1280.3 739.7L1281.6 740.6L1282.9 739.9L1284.3 740.4L1285.6 740.3L1286.9 740.2L1288.2 741.3L1289.6 740.1L1290.9 741.4L1292.2 740.5L1293.6 740.9L1294.9 741.5L1296.2 739.8L1297.6 739.9L1298.9 740.6L1300.2 740.2L1301.5 739.9L1302.9 740.0L1304.2 739.6L1305.5 740.0L1306.9 740.4L1308.2 739.7L1309.5 739.9L1310.9 740.2L1312.2 740.5L1313.5 739.6L1314.8 739.8L1316.2 739.5L1317.5 739.4L1318.8 739.3L1320.2 738.9L1321.5 738.3L1322.8 737.9L1324.2 738.3L1325.5 738.6L1326.8 738.9L1328.1 738.3L1329.5 738.5L1330.8 738.8L1332.1 738.9L1333.5 738.8L1334.8 738.9L1336.1 739.7L1337.5 739.1L1338.8 739.2L1340.1 738.9L1341.4 739.7L1342.8 739.5L1344.1 740.3L1345.4 739.6L1346.8 740.0L1348.1 740.1L1349.4 740.4L1350.8 739.4L1352.1 740.5L1353.4 740.0L1354.7 740.0L1356.1 740.0L1357.4 740.0L1358.7 740.2L1360.1 739.9L1361.4 741.2L1362.7 741.4L1364.1 741.3L1365.4 741.3L1366.7 741.8L1368.0 740.9L1369.4 740.3L1370.7 740.7L1372.0 739.7L1373.4 740.1L1374.7 740.0L1376.0 740.3L1377.4 740.7L1378.7 740.6L1380.0 739.9L1381.3 739.9L1382.7 739.8L1384.0 739.4L1385.3 739.4L1386.7 739.2L1388.0 739.3L1389.3 739.6L1390.7 739.2L1392.0 739.7L1393.3 739.4L1394.6 739.0L1396.0 739.0L1397.3 739.0L1398.6 739.0L1400.0 739.1L1401.3 738.9L1402.6 738.7L1404.0 739.4L1405.3 739.2L1406.6 738.9L1407.9 739.1L1409.3 738.9L1410.6 738.6L1411.9 738.7L1413.3 739.6L1414.6 739.0L1415.9 739.0L1417.3 738.4L1418.6 738.8L1419.9 739.3L1421.2 738.6L1422.6 738.8L1423.9 738.9"/>
<path stroke="#9edae5" d="M226.9 700.8L228.2 701.3L229.6 701.0L230.9 701.3L232.2 701.0L233.6 702.5L234.9 701.8L236.2 701.9L237.5 702.6L238.9 702.1L240.2 702.5L241.5 702.4L242.9 702.9L244.2 703.0L245.5 703.2L246.9 702.8L248.2 702.5L249.5 702.4L250.8 702.3L252.2 702.0L253.5 702.4L254.8 702.1L256.2 702.2L257.5 701.9L258.8 702.8L260.2 702.4L261.5 703.2L262.8 703.4L264.1 703.4L265.5 703.4L266.8 703.6L268.1 704.7L269.5 704.0L270.8 704.0L272.1 704.2L273.5 703.8L274.8 703.8L276.1 702.7L277.4 702.6L278.8 704.1L280.1 702.9L281.4 702.8L282.8 703.1L284.1 703.4L285.4 702.7L286.8 703.3L288.1 703.2L289.4 703.6L290.7 703.5L292.1 703.3L293.4 703.3L294.7 702.8L296.1 703.7L297.4 702.3L298.7 702.3L300.1 702.7L301.4 701.4L302.7 701.4L304.0 701.4L305.4 702.0L306.7 702.1L308.0 702.2L309.4 702.9L310.7 702.2L312.0 701.7L313.4 702.0L314.7 702.2L316.0 701.5L317.3 702.1L318.7 702.1L320.0 702.6L321.3 701.5L322.7 701.9L324.0 701.0L325.3 701.7L326.7 702.1L328.0 702.3L329.3 702.4L330.6 702.5L332.0 702.5L333.3 702.7L334.6 703.0L336.0 703.0L337.3 702.9L338.6 702.9L340.0 702.9L341.3 701.6L342.6 702.0L343.9 702.0L345.3 701.5L346.6 701.9L347.9 701.5L349.3 700.9L350.6 700.9L351.9 701.2L353.3 700.5L354.6 700.4L355.9 700.8L357.2 700.5L358.6 700.8L359.9 700.5L361.2 700.7L362.6 700.3L363.9 700.3L365.2 700.7L366.6 699.8L367.9 701.1L369.2 701.4L370.5 701.1L371.9 701.1L373.2 701.8L374.5 701.5L375.9 702.1L377.2 702.7L378.5 702.2L379.9 702.5L381.2 702.5L382.5 702.5L383.8 702.1L385.2 701.6L386.5 701.6L387.8 700.2L389.2 700.4L390.5 700.3L391.8 700.0L393.2 700.5L394.5 700.5L395.8 701.2L397.1 701.5L398.5 701.5L399.8 700.9L401.1 700.2L402.5 700.4L403.8 700.3L405.1 700.8L406.5 699.5L407.8 700.6L409.1 699.9L410.4 701.0L411.8 701.0L413.1 701.1L414.4 701.3L415.8 701.3L417.1 701.0L418.4 701.6L419.8 702.0L421.1 701.7L422.4 701.9L423.7 701.3L425.1 702.0L426.4 701.1L427.7 700.8L429.1 700.7L430.4 700.3L431.7 700.3L433.1 700.7L434.4 700.8L435.7 701.2L437.0 701.5L438.4 700.8L439.7 701.6L441.0 702.1L442.4 702.5L443.7 701.2L445.0 701.3L446.4 702.2L447.7 702.0L449.0 701.9L450.3 702.6L451.7 702.2L453.0 701.7L454.3 702.6L455.7 702.8L457.0 703.0L458.3 703.2L459.7 702.9L461.0 702.6L462.3 702.3L463.6 701.8L465.0 702.1L466.3 702.5L467.6 702.4L469.0 703.2L470.3 702.6L471.6 702.2L473.0 703.7L474.3 704.3L475.6 703.9L476.9 704.3L478.3 705.5L479.6 706.2L480.9 706.3L482.3 707.6L483.6 708.4L484.9 709.2L486.3 710.1L487.6 711.6L488.9 712.4L490.2 713.1L491.6 713.0L492.9 715.3L494.2 714.9L495.6 714.9L496.9 713.8L498.2 713.8L499.6 712.5L500.9 713.3L502.2 713.5L503.5 714.1L504.9 713.6L506.2 713.5L507.5 713.2L508.9 713.8L510.2 712.0L511.5 712.3L512.9 711.6L514.2 711.6L515.5 711.4L516.8 710.9L518.2 710.6L519.5 710.3L520.8 709.6L522.2 709.4L523.5 708.6L524.8 708.8L526.2 708.7L527.5 709.4L528.8 710.3L530.1 710.7L531.5 711.1L532.8 711.3L534.1 710.0L535.5 711.1L536.8 710.5L538.1 709.8L539.5 709.8L540.8 711.3L542.1 711.5L543.4 709.9L544.8 708.0L546.1 706.7L547.4 705.3L548.8 705.8L550.1 705.8L551.4 705.6L552.8 705.8L554.1 705.2L555.4 704.4L556.7 703.3L558.1 703.0L559.4 702.1L560.7 702.1L562.1 702.6L563.4 702.4L564.7 702.6L566.1 701.9L567.4 703.2L568.7 703.1L570.0 703.4L571.4 703.9L572.7 704.0L574.0 703.9L575.4 705.2L576.7 704.5L578.0 704.9L579.4 705.0L580.7 703.9L582.0 703.9L583.3 703.4L584.7 703.9L586.0 703.2L587.3 702.6L588.7 703.2L590.0 702.7L591.3 701.7L592.7 702.2L594.0 701.9L595.3 703.6L596.6 704.1L598.0 704.0L599.3 704.0L600.6 703.1L602.0 702.8L603.3 702.4L604.6 702.5L606.0 702.1L607.3 701.4L608.6 701.5L609.9 702.2L611.3 701.9L612.6 701.1L613.9 700.8L615.3 700.4L616.6 700.2L617.9 699.2L619.3 700.3L620.6 699.9L621.9 700.3L623.2 699.4L624.6 700.6L625.9 701.1L627.2 699.9L628.6 701.4L629.9 701.1L631.2 700.7L632.6 700.4L633.9 701.6L635.2 701.3L636.5 701.7L637.9 701.6L639.2 701.6L640.5 702.5L641.9 702.1L643.2 703.0L644.5 702.3L645.9 702.7L647.2 701.9L648.5 702.5L649.8 700.7L651.2 700.4L652.5 701.2L653.8 701.2L655.2 702.1L656.5 702.1L657.8 701.7L659.2 701.9L660.5 701.1L661.8 701.6L663.1 701.9L664.5 702.1L665.8 701.8L667.1 702.2L668.5 702.4L669.8 703.3L671.1 703.2L672.5 703.1L673.8 703.2L675.1 703.6L676.4 703.4L677.8 703.6L679.1 703.0L680.4 703.8L681.8 703.9L683.1 703.5L684.4 703.5L685.8 703.4L687.1 703.9L688.4 703.2L689.7 702.5L691.1 702.5L692.4 703.1L693.7 703.2L695.1 703.0L696.4 703.2L697.7 703.1L699.1 702.7L700.4 703.1L701.7 702.9L703.0 703.6L704.4 703.4L705.7 704.1L707.0 704.1L708.4 703.5L709.7 704.7L711.0 704.8L712.4 704.0L713.7 704.7L715.0 705.0L716.3 704.8L717.7 705.3L719.0 705.2L720.3 705.6L721.7 705.4L723.0 705.4L724.3 705.7L725.7 705.8L727.0 705.3L728.3 704.8L729.6 704.4L731.0 704.3L732.3 703.9L733.6 704.4L735.0 704.7L736.3 704.9L737.6 705.2L739.0 705.5L740.3 706.2L741.6 705.9L742.9 705.1L744.3 705.4L745.6 704.9L746.9 704.9L748.3 704.7L749.6 704.4L750.9 704.0L752.3 703.4L753.6 704.3L754.9 704.6L756.2 703.6L757.6 704.0L758.9 703.6L760.2 704.0L761.6 703.8L762.9 704.2L764.2 704.4L765.6 703.7L766.9 704.5L768.2 704.1L769.5 702.9L770.9 703.8L772.2 703.3L773.5 703.1L774.9 702.9L776.2 702.4L777.5 702.2L778.9 702.5L780.2 702.6L781.5 703.7L782.8 703.6L784.2 702.9L785.5 703.1L786.8 703.6L788.2 703.9L789.5 703.5L790.8 703.2L792.2 704.2L793.5 703.6L794.8 702.4L796.1 702.1L797.5 702.3L798.8 702.5L800.1 702.4L801.5 701.9L802.8 701.3L804.1 701.9L805.5 701.9L806.8 701.5L808.1 701.2L809.4 701.5L810.8 701.4L812.1 701.2L813.4 701.8L814.8 701.5L816.1 702.5L817.4 702.9L818.8 702.9L820.1 703.9L821.4 703.9L822.7 702.0L824.1 702.1L825.4 702.2L826.7 700.6L828.1 701.1L829.4 700.5L830.7 700.9L832.1 699.9L833.4 700.1L834.7 700.6L836.0 701.0L837.4 701.3L838.7 701.5L840.0 702.0L841.4 702.0L842.7 702.2L844.0 701.7L845.4 702.2L846.7 704.1L848.0 704.5L849.3 704.7L850.7 705.3L852.0 706.1L853.3 706.3L854.7 707.6L856.0 707.0L857.3 707.4L858.7 708.6L860.0 707.2L861.3 708.4L862.6 707.7L864.0 708.1L865.3 708.3L866.6 708.2L868.0 708.5L869.3 708.1L870.6 708.7L872.0 709.0L873.3 709.9L874.6 710.2L875.9 710.9L877.3 710.1L878.6 710.8L879.9 710.0L881.3 709.1L882.6 708.6L883.9 708.2L885.3 707.6L886.6 708.7L887.9 707.5L889.2 708.7L890.6 708.1L891.9 707.5L893.2 707.9L894.6 707.7L895.9 708.7L897.2 707.7L898.6 708.6L899.9 708.4L901.2 707.5L902.5 707.1L903.9 707.7L905.2 706.8L906.5 706.6L907.9 706.1L909.2 705.4L910.5 705.5L911.9 704.9L913.2 704.4L914.5 704.6L915.8 705.1L917.2 704.8L918.5 704.2L919.8 704.3L921.2 704.5L922.5 704.9L923.8 704.5L925.2 704.3L926.5 704.4L927.8 705.2L929.1 706.0L930.5 705.0L931.8 704.6L933.1 705.6L934.5 704.7L935.8 704.4L937.1 704.3L938.5 703.9L939.8 703.4L941.1 703.2L942.4 704.1L943.8 703.7L945.1 704.4L946.4 704.0L947.8 704.8L949.1 704.7L950.4 705.5L951.8 705.7L953.1 706.3L954.4 706.7L955.7 706.3L957.1 706.2L958.4 707.4L959.7 707.0L961.1 707.1L962.4 706.9L963.7 707.0L965.1 706.6L966.4 705.4L967.7 704.3L969.0 704.2L970.4 704.7L971.7 705.4L973.0 706.0L974.4 706.5L975.7 707.2L977.0 706.9L978.4 706.2L979.7 705.2L981.0 706.1L982.3 706.3L983.7 705.9L985.0 706.7L986.3 706.9L987.7 707.1L989.0 706.5L990.3 706.8L991.7 706.4L993.0 706.7L994.3 705.9L995.6 706.5L997.0 706.6L998.3 707.2L999.6 708.0L1001.0 706.4L1002.3 705.2L1003.6 706.2L1005.0 705.8L1006.3 705.5L1007.6 705.7L1008.9 704.5L1010.3 702.1L1011.6 701.9L1012.9 701.7L1014.3 700.2L1015.6 699.6L1016.9 699.9L1018.3 699.5L1019.6 699.2L1020.9 699.4L1022.2 699.4L1023.6 700.5L1024.9 699.8L1026.2 701.2L1027.6 700.4L1028.9 701.4L1030.2 701.1L1031.6 701.8L1032.9 702.6L1034.2 703.0L1035.5 703.3L1036.9 703.0L1038.2 703.3L1039.5 703.5L1040.9 703.9L1042.2 703.7L1043.5 704.5L1044.9 704.3L1046.2 704.7L1047.5 704.5L1048.8 704.7L1050.2 704.2L1051.5 704.4L1052.8 704.4L1054.2 705.2L1055.5 705.7L1056.8 706.6L1058.2 706.1L1059.5 708.4L1060.8 707.3L1062.1 708.0L1063.5 708.0L1064.8 706.7L1066.1 707.8L1067.5 708.6L1068.8 706.7L1070.1 707.3L1071.5 705.9L1072.8 705.4L1074.1 705.4L1075.4 704.5L1076.8 705.1L1078.1 704.6L1079.4 704.5L1080.8 704.9L1082.1 705.9L1083.4 704.5L1084.8 704.4L1086.1 704.2L1087.4 703.9L1088.7 704.2L1090.1 704.7L1091.4 704.1L1092.7 704.3L1094.1 703.7L1095.4 704.8L1096.7 703.0L1098.1 703.7L1099.4 703.1L1100.7 702.4L1102.0 701.2L1103.4 700.6L1104.7 700.4L1106.0 700.2L1107.4 699.6L1108.7 699.6L1110.0 700.1L1111.4 700.2L1112.7 699.5L1114.0 699.3L1115.3 699.2L1116.7 700.4L1118.0 699.5L1119.3 699.2L1120.7 699.6L1122.0 700.1L1123.3 699.8L1124.7 698.8L1126.0 699.4L1127.3 699.3L1128.6 699.4L1130.0 699.2L1131.3 699.7L1132.6 699.5L1134.0 700.3L1135.3 700.3L1136.6 699.9L1138.0 699.9L1139.3 700.5L1140.6 701.2L1141.9 701.2L1143.3 701.1L1144.6 699.7L1145.9 700.6L1147.3 700.4L1148.6 700.4L1149.9 700.0L1151.3 700.6L1152.6 700.8L1153.9 702.5L1155.2 702.0L1156.6 702.0L1157.9 702.4L1159.2 702.7L1160.6 703.1L1161.9 703.2L1163.2 703.7L1164.6 704.5L1165.9 704.7L1167.2 704.8L1168.5 705.6L1169.9 705.5L1171.2 705.1L1172.5 705.0L1173.9 705.6L1175.2 706.0L1176.5 706.3L1177.9 706.7L1179.2 706.2L1180.5 706.3L1181.8 707.1L1183.2 707.2L1184.5 705.7L1185.8 705.2L1187.2 704.7L1188.5 703.4L1189.8 702.4L1191.2 700.7L1192.5 701.2L1193.8 700.0L1195.1 699.8L1196.5 699.9L1197.8 699.9L1199.1 700.7L1200.5 701.0L1201.8 701.8L1203.1 701.3L1204.5 702.5L1205.8 702.1L1207.1 702.7L1208.4 702.0L1209.8 702.7L1211.1 703.2L1212.4 702.9L1213.8 702.4L1215.1 703.1L1216.4 703.7L1217.8 703.1L1219.1 703.3L1220.4 704.2L1221.7 703.9L1223.1 704.7L1224.4 704.0L1225.7 703.7L1227.1 704.1L1228.4 705.0L1229.7 704.0L1231.1 704.3L1232.4 704.4L1233.7 703.9L1235.0 704.9L1236.4 704.7L1237.7 705.0L1239.0 704.3L1240.4 704.4L1241.7 704.2L1243.0 705.3L1244.4 705.4L1245.7 705.8L1247.0 706.2L1248.3 705.5L1249.7 705.6L1251.0 706.0L1252.3 707.1L1253.7 707.0L1255.0 708.3L1256.3 708.8L1257.7 708.6L1259.0 708.5L1260.3 707.2L1261.6 706.9L1263.0 707.5L1264.3 707.1L1265.6 706.9L1267.0 706.9L1268.3 707.1L1269.6 707.0L1271.0 707.8L1272.3 707.9L1273.6 708.1L1274.9 707.4L1276.3 706.6L1277.6 705.6L1278.9 705.3L1280.3 705.3L1281.6 706.9L1282.9 706.0L1284.3 706.5L1285.6 707.1L1286.9 706.3L1288.2 706.7L1289.6 707.0L1290.9 706.9L1292.2 706.9L1293.6 707.1L1294.9 707.4L1296.2 706.8L1297.6 706.2L1298.9 705.9L1300.2 705.1L1301.5 706.0L1302.9 705.8L1304.2 705.1L1305.5 705.5L1306.9 705.2L1308.2 705.0L1309.5 704.8L1310.9 704.9L1312.2 704.7L1313.5 705.3L1314.8 705.2L1316.2 705.1L1317.5 704.8L1318.8 704.2L1320.2 704.7L1321.5 702.6L1322.8 703.3L1324.2 702.9L1325.5 702.7L1326.8 702.5L1328.1 702.6L1329.5 702.3L1330.8 702.2L1332.1 703.0L1333.5 702.6L1334.8 703.9L1336.1 704.2L1337.5 702.7L1338.8 703.7L1340.1 704.7L1341.4 704.8L1342.8 704.8L1344.1 705.0L1345.4 705.3L1346.8 705.4L1348.1 705.9L1349.4 705.2L1350.8 705.7L1352.1 704.8L1353.4 705.5L1354.7 705.1L1356.1 706.3L1357.4 706.8L1358.7 706.4L1360.1 706.3L1361.4 707.5L1362.7 708.2L1364.1 708.7L1365.4 708.5L1366.7 707.8L1368.0 705.8L1369.4 706.9L1370.7 705.5L1372.0 705.3L1373.4 706.3L1374.7 705.8L1376.0 705.6L1377.4 705.8L1378.7 706.3L1380.0 706.2L1381.3 706.1L1382.7 705.0L1384.0 704.5L1385.3 705.1L1386.7 704.4L1388.0 705.2L1389.3 704.7L1390.7 704.8L1392.0 704.5L1393.3 704.6L1394.6 704.1L1396.0 703.8L1397.3 703.8L1398.6 703.5L1400.0 703.8L1401.3 703.6L1402.6 703.4L1404.0 703.4L1405.3 703.3L1406.6 704.0L1407.9 703.2L1409.3 702.9L1410.6 702.9L1411.9 703.3L1413.3 702.9L1414.6 702.8L1415.9 702.7L1417.3 702.8L1418.6 702.9L1419.9 702.9L1421.2 702.0L1422.6 702.2L1423.9 701.5"/>
</g>
<rect x="169.5" y="5.4" width="1312.9" height="816.1" fill="none" stroke="#000" stroke-width="2.5" stroke-linejoin="miter"/>
<path d="M227.30 821.5V836.1M426.47 821.5V836.1M625.63 821.5V836.1M824.80 821.5V836.1M1023.97 821.5V836.1M1223.13 821.5V836.1M1422.30 821.5V836.1M169.5 673.05H154.1M169.5 502.38H154.1M169.5 331.71H154.1M169.5 161.04H154.1" stroke="#000" stroke-width="2.08" fill="none"/>
<text transform="translate(180.68 878.00) scale(1 1.0407)" font-size="37.50">&#8199;0:09</text><path transform="translate(180.68 878.00) scale(0.01831 -0.01831)" d="M763 0L583 0L583 1147C540 1106 483 1065 413 1024C343 983 280 952 224 931L224 1105C325 1152 413 1210 488 1277C563 1344 616 1409 647 1472L763 1472Z"/>
<text transform="translate(379.85 878.00) scale(1 1.0407)" font-size="37.50">&#8199;0:&#8199;4</text><path transform="translate(379.85 878.00) scale(0.01831 -0.01831)" d="M763 0L583 0L583 1147C540 1106 483 1065 413 1024C343 983 280 952 224 931L224 1105C325 1152 413 1210 488 1277C563 1344 616 1409 647 1472L763 1472Z"/><path transform="translate(431.98 878.00) scale(0.01831 -0.01831)" d="M763 0L583 0L583 1147C540 1106 483 1065 413 1024C343 983 280 952 224 931L224 1105C325 1152 413 1210 488 1277C563 1344 616 1409 647 1472L763 1472Z"/>
<text transform="translate(579.01 878.00) scale(1 1.0407)" font-size="37.50">&#8199;0:&#8199;9</text><path transform="translate(579.01 878.00) scale(0.01831 -0.01831)" d="M763 0L583 0L583 1147C540 1106 483 1065 413 1024C343 983 280 952 224 931L224 1105C325 1152 413 1210 488 1277C563 1344 616 1409 647 1472L763 1472Z"/><path transform="translate(631.14 878.00) scale(0.01831 -0.01831)" d="M763 0L583 0L583 1147C540 1106 483 1065 413 1024C343 983 280 952 224 931L224 1105C325 1152 413 1210 488 1277C563 1344 616 1409 647 1472L763 1472Z"/>
<text transform="translate(778.18 878.00) scale(1 1.0407)" font-size="37.50">&#8199;0:24</text><path transform="translate(778.18 878.00) scale(0.01831 -0.01831)" d="M763 0L583 0L583 1147C540 1106 483 1065 413 1024C343 983 280 952 224 931L224 1105C325 1152 413 1210 488 1277C563 1344 616 1409 647 1472L763 1472Z"/>
<text transform="translate(977.35 878.00) scale(1 1.0407)" font-size="37.50">&#8199;0:29</text><path transform="translate(977.35 878.00) scale(0.01831 -0.01831)" d="M763 0L583 0L583 1147C540 1106 483 1065 413 1024C343 983 280 952 224 931L224 1105C325 1152 413 1210 488 1277C563 1344 616 1409 647 1472L763 1472Z"/>
<text transform="translate(1176.51 878.00) scale(1 1.0407)" font-size="37.50">&#8199;0:34</text><path transform="translate(1176.51 878.00) scale(0.01831 -0.01831)" d="M763 0L583 0L583 1147C540 1106 483 1065 413 1024C343 983 280 952 224 931L224 1105C325 1152 413 1210 488 1277C563 1344 616 1409 647 1472L763 1472Z"/>
<text transform="translate(1375.68 878.00) scale(1 1.0407)" font-size="37.50">&#8199;0:39</text><path transform="translate(1375.68 878.00) scale(0.01831 -0.01831)" d="M763 0L583 0L583 1147C540 1106 483 1065 413 1024C343 983 280 952 224 931L224 1105C325 1152 413 1210 488 1277C563 1344 616 1409 647 1472L763 1472Z"/>
<text transform="translate(55.58 686.90) scale(1 1.0407)" font-size="37.50">&#8199;000</text><path transform="translate(55.58 686.90) scale(0.01831 -0.01831)" d="M763 0L583 0L583 1147C540 1106 483 1065 413 1024C343 983 280 952 224 931L224 1105C325 1152 413 1210 488 1277C563 1344 616 1409 647 1472L763 1472Z"/>
<text transform="translate(139.00 516.23) scale(1 1.0407)" font-size="37.50" text-anchor="end">2000</text>
<text transform="translate(139.00 345.56) scale(1 1.0407)" font-size="37.50" text-anchor="end">3000</text>
<text transform="translate(139.00 174.89) scale(1 1.0407)" font-size="37.50" text-anchor="end">4000</text>
<text transform="translate(825.90 929.30) scale(1 1.0407)" font-size="37.50" text-anchor="middle">Times (UT+8)</text>
<text transform="translate(31.90 414.20) rotate(-90) scale(1 1.0407)" font-size="37.50" text-anchor="middle">Data / mV</text>
<path d="M1518.9 42.95H1581.0" stroke="#1f77b4" stroke-width="3.75"/>
<text transform="translate(1602.60 54.05) scale(1 1.0407)" font-size="29.17">68.5-69.5 GHz_R</text>
<path d="M1518.9 85.52H1581.0" stroke="#aec7e8" stroke-width="3.75"/>
<text transform="translate(1602.60 96.62) scale(1 1.0407)" font-size="29.17">66.5-67.5 GHz_R</text>
<path d="M1518.9 128.09H1581.0" stroke="#ff7f0e" stroke-width="3.75"/>
<text transform="translate(1602.60 139.19) scale(1 1.0407)" font-size="29.17">64.5-65.5 GHz_R</text>
<path d="M1518.9 170.66H1581.0" stroke="#ffbb78" stroke-width="3.75"/>
<text transform="translate(1602.60 181.76) scale(1 1.0407)" font-size="29.17">62.5-63.5 GHz_R</text>
<path d="M1518.9 213.23H1581.0" stroke="#2ca02c" stroke-width="3.75"/>
<text transform="translate(1602.60 224.33) scale(1 1.0407)" font-size="29.17">60.5-6&#8199;.5 GHz_R</text><path transform="translate(1685.31 224.33) scale(0.01424 -0.01424)" d="M763 0L583 0L583 1147C540 1106 483 1065 413 1024C343 983 280 952 224 931L224 1105C325 1152 413 1210 488 1277C563 1344 616 1409 647 1472L763 1472Z"/>
<path d="M1518.9 255.80H1581.0" stroke="#98df8a" stroke-width="3.75"/>
<text transform="translate(1602.60 266.90) scale(1 1.0407)" font-size="29.17">58.5-59.5 GHz_R</text>
<path d="M1518.9 298.37H1581.0" stroke="#d62728" stroke-width="3.75"/>
<text transform="translate(1602.60 309.47) scale(1 1.0407)" font-size="29.17">56.5-57.5 GHz_R</text>
<path d="M1518.9 340.94H1581.0" stroke="#ff9896" stroke-width="3.75"/>
<text transform="translate(1602.60 352.04) scale(1 1.0407)" font-size="29.17">54.5-55.5 GHz_R</text>
<path d="M1518.9 383.51H1581.0" stroke="#9467bd" stroke-width="3.75"/>
<text transform="translate(1602.60 394.61) scale(1 1.0407)" font-size="29.17">52.5-53.5 GHz_R</text>
<path d="M1518.9 426.08H1581.0" stroke="#c5b0d5" stroke-width="3.75"/>
<text transform="translate(1602.60 437.18) scale(1 1.0407)" font-size="29.17">50.5-5&#8199;.5 GHz_R</text><path transform="translate(1685.31 437.18) scale(0.01424 -0.01424)" d="M763 0L583 0L583 1147C540 1106 483 1065 413 1024C343 983 280 952 224 931L224 1105C325 1152 413 1210 488 1277C563 1344 616 1409 647 1472L763 1472Z"/>
<path d="M1518.9 468.65H1581.0" stroke="#8c564b" stroke-width="3.75"/>
<text transform="translate(1602.60 479.75) scale(1 1.0407)" font-size="29.17">68.5-69.5 GHz_L</text>
<path d="M1518.9 511.22H1581.0" stroke="#c49c94" stroke-width="3.75"/>
<text transform="translate(1602.60 522.32) scale(1 1.0407)" font-size="29.17">66.5-67.5 GHz_L</text>
<path d="M1518.9 553.79H1581.0" stroke="#e377c2" stroke-width="3.75"/>
<text transform="translate(1602.60 564.89) scale(1 1.0407)" font-size="29.17">64.5-65.5 GHz_L</text>
<path d="M1518.9 596.36H1581.0" stroke="#f7b6d2" stroke-width="3.75"/>
<text transform="translate(1602.60 607.46) scale(1 1.0407)" font-size="29.17">62.5-63.5 GHz_L</text>
<path d="M1518.9 638.93H1581.0" stroke="#7f7f7f" stroke-width="3.75"/>
<text transform="translate(1602.60 650.03) scale(1 1.0407)" font-size="29.17">60.5-6&#8199;.5 GHz_L</text><path transform="translate(1685.31 650.03) scale(0.01424 -0.01424)" d="M763 0L583 0L583 1147C540 1106 483 1065 413 1024C343 983 280 952 224 931L224 1105C325 1152 413 1210 488 1277C563 1344 616 1409 647 1472L763 1472Z"/>
<path d="M1518.9 681.50H1581.0" stroke="#c7c7c7" stroke-width="3.75"/>
<text transform="translate(1602.60 692.60) scale(1 1.0407)" font-size="29.17">58.5-59.5 GHz_L</text>
<path d="M1518.9 724.07H1581.0" stroke="#bcbd22" stroke-width="3.75"/>
<text transform="translate(1602.60 735.17) scale(1 1.0407)" font-size="29.17">56.5-57.5 GHz_L</text>
<path d="M1518.9 766.64H1581.0" stroke="#dbdb8d" stroke-width="3.75"/>
<text transform="translate(1602.60 777.74) scale(1 1.0407)" font-size="29.17">54.5-55.5 GHz_L</text>
<path d="M1518.9 809.21H1581.0" stroke="#17becf" stroke-width="3.75"/>
<text transform="translate(1602.60 820.31) scale(1 1.0407)" font-size="29.17">52.5-53.5 GHz_L</text>
<path d="M1518.9 851.78H1581.0" stroke="#9edae5" stroke-width="3.75"/>
<text transform="translate(1602.60 862.88) scale(1 1.0407)" font-size="29.17">50.5-5&#8199;.5 GHz_L</text><path transform="translate(1685.31 862.88) scale(0.01424 -0.01424)" d="M763 0L583 0L583 1147C540 1106 483 1065 413 1024C343 983 280 952 224 931L224 1105C325 1152 413 1210 488 1277C563 1344 616 1409 647 1472L763 1472Z"/>
</svg></body></html>
